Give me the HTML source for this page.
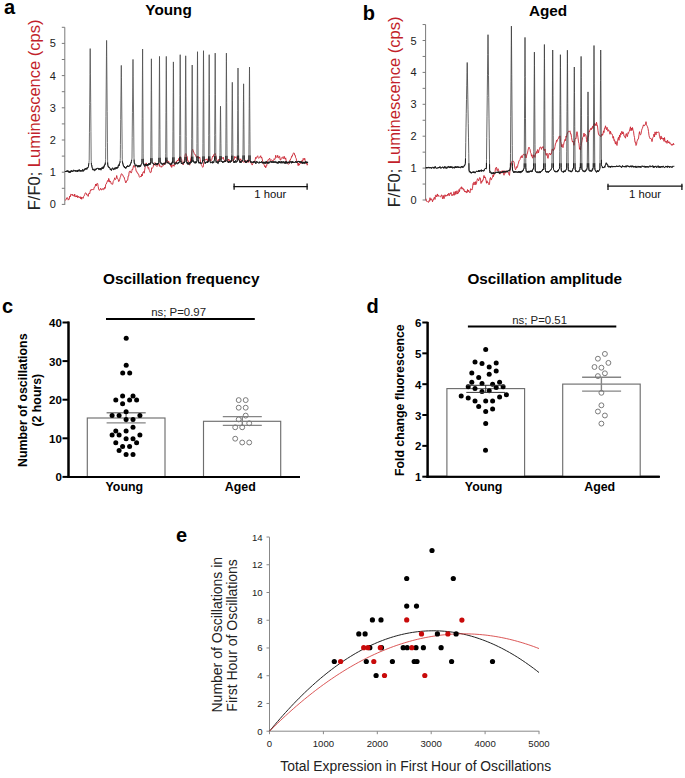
<!DOCTYPE html>
<html><head><meta charset="utf-8"><title>Figure</title>
<style>html,body{margin:0;padding:0;background:#fff;}body{width:685px;height:778px;overflow:hidden;font-family:"Liberation Sans",sans-serif;}svg{display:block;}</style>
</head><body>
<svg width="685" height="778" viewBox="0 0 685 778" font-family="Liberation Sans, sans-serif">
<rect width="685" height="778" fill="#fff"/>
<text x="3.90" y="13.60" font-size="20" text-anchor="start" font-weight="bold" fill="#000" >a</text>
<text x="168.60" y="15.40" font-size="15.3" text-anchor="middle" font-weight="bold" fill="#000" >Young</text>
<line x1="64.80" y1="204.90" x2="64.80" y2="27.30" stroke="#7a7a7a" stroke-width="1" />
<line x1="61.80" y1="204.40" x2="64.80" y2="204.40" stroke="#7a7a7a" stroke-width="1" />
<text x="55.80" y="208.40" font-size="11" text-anchor="end" fill="#222" >0</text>
<line x1="61.80" y1="188.30" x2="64.80" y2="188.30" stroke="#7a7a7a" stroke-width="1" />
<line x1="61.80" y1="172.20" x2="64.80" y2="172.20" stroke="#7a7a7a" stroke-width="1" />
<text x="55.80" y="176.20" font-size="11" text-anchor="end" fill="#222" >1</text>
<line x1="61.80" y1="156.10" x2="64.80" y2="156.10" stroke="#7a7a7a" stroke-width="1" />
<line x1="61.80" y1="140.00" x2="64.80" y2="140.00" stroke="#7a7a7a" stroke-width="1" />
<text x="55.80" y="144.00" font-size="11" text-anchor="end" fill="#222" >2</text>
<line x1="61.80" y1="123.90" x2="64.80" y2="123.90" stroke="#7a7a7a" stroke-width="1" />
<line x1="61.80" y1="107.80" x2="64.80" y2="107.80" stroke="#7a7a7a" stroke-width="1" />
<text x="55.80" y="111.80" font-size="11" text-anchor="end" fill="#222" >3</text>
<line x1="61.80" y1="91.70" x2="64.80" y2="91.70" stroke="#7a7a7a" stroke-width="1" />
<line x1="61.80" y1="75.60" x2="64.80" y2="75.60" stroke="#7a7a7a" stroke-width="1" />
<text x="55.80" y="79.60" font-size="11" text-anchor="end" fill="#222" >4</text>
<line x1="61.80" y1="59.50" x2="64.80" y2="59.50" stroke="#7a7a7a" stroke-width="1" />
<line x1="61.80" y1="43.40" x2="64.80" y2="43.40" stroke="#7a7a7a" stroke-width="1" />
<text x="55.80" y="47.40" font-size="11" text-anchor="end" fill="#222" >5</text>
<line x1="61.80" y1="27.30" x2="64.80" y2="27.30" stroke="#7a7a7a" stroke-width="1" />
<text transform="translate(39.6,114.9) rotate(-90)" font-size="16.5" text-anchor="middle" fill="#222">F/F0; <tspan fill="#c21f2b">Luminescence (cps)</tspan></text>
<path d="M65.20,199.89 L65.70,200.23 L66.20,199.28 L66.70,197.82 L67.20,197.98 L67.70,197.76 L68.20,200.14 L68.70,199.33 L69.20,199.34 L69.70,196.14 L70.20,197.00 L70.70,194.31 L71.20,194.75 L71.70,195.01 L72.20,194.01 L72.70,195.67 L73.20,195.03 L73.70,195.10 L74.20,196.38 L74.70,194.09 L75.20,196.91 L75.70,196.49 L76.20,195.68 L76.70,197.03 L77.20,195.50 L77.70,197.73 L78.20,196.95 L78.70,196.24 L79.20,197.85 L79.70,197.45 L80.20,196.71 L80.70,198.81 L81.20,196.96 L81.70,199.27 L82.20,197.45 L82.70,197.73 L83.20,198.29 L83.70,196.38 L84.20,195.87 L84.70,194.52 L85.20,193.09 L85.70,192.84 L86.20,193.20 L86.70,194.97 L87.20,194.75 L87.70,194.98 L88.20,196.40 L88.70,193.74 L89.20,192.97 L89.70,193.74 L90.20,191.06 L90.70,189.77 L91.20,190.30 L91.70,189.31 L92.20,189.96 L92.70,189.42 L93.20,190.07 L93.70,189.56 L94.20,187.25 L94.70,187.37 L95.20,186.12 L95.70,184.00 L96.20,185.99 L96.70,183.89 L97.20,183.27 L97.70,183.59 L98.20,186.55 L98.70,189.14 L99.20,190.35 L99.70,189.87 L100.20,189.44 L100.70,188.27 L101.20,190.07 L101.70,189.93 L102.20,188.80 L102.70,189.25 L103.20,188.35 L103.70,189.71 L104.20,189.24 L104.70,187.26 L105.20,188.37 L105.70,184.46 L106.20,184.15 L106.70,182.85 L107.20,181.67 L107.70,180.47 L108.20,181.66 L108.70,178.40 L109.20,179.65 L109.70,182.13 L110.20,180.95 L110.70,181.79 L111.20,183.89 L111.70,183.89 L112.20,184.10 L112.70,184.33 L113.20,181.51 L113.70,180.62 L114.20,179.65 L114.70,177.79 L115.20,179.70 L115.70,179.25 L116.20,178.49 L116.70,175.52 L117.20,177.76 L117.70,178.73 L118.20,179.46 L118.70,181.63 L119.20,181.00 L119.70,179.35 L120.20,177.47 L120.70,176.23 L121.20,174.05 L121.70,173.68 L122.20,174.65 L122.70,174.82 L123.20,176.14 L123.70,177.18 L124.20,177.26 L124.70,179.66 L125.20,180.87 L125.70,182.94 L126.20,182.37 L126.70,180.64 L127.20,180.47 L127.70,180.22 L128.20,176.00 L128.70,176.01 L129.20,171.89 L129.70,171.21 L130.20,170.94 L130.70,172.50 L131.20,173.08 L131.70,171.79 L132.20,169.14 L132.70,169.64 L133.20,167.04 L133.70,165.51 L134.20,167.20 L134.70,166.57 L135.20,167.20 L135.70,168.49 L136.20,171.32 L136.70,171.24 L137.20,172.89 L137.70,172.89 L138.20,174.34 L138.70,174.36 L139.20,176.53 L139.70,177.31 L140.20,176.81 L140.70,176.06 L141.20,176.78 L141.70,174.26 L142.20,175.94 L142.70,173.15 L143.20,171.95 L143.70,171.54 L144.20,173.22 L144.70,169.99 L145.20,166.85 L145.70,164.31 L146.20,162.90 L146.70,164.75 L147.20,165.47 L147.70,166.76 L148.20,168.38 L148.70,167.58 L149.20,170.28 L149.70,170.76 L150.20,172.62 L150.70,172.66 L151.20,172.04 L151.70,167.76 L152.20,168.36 L152.70,167.67 L153.20,166.98 L153.70,163.70 L154.20,163.33 L154.70,162.94 L155.20,162.61 L155.70,165.52 L156.20,166.18 L156.70,165.76 L157.20,166.40 L157.70,165.89 L158.20,164.54 L158.70,163.57 L159.20,163.63 L159.70,166.48 L160.20,165.72 L160.70,166.42 L161.20,167.32 L161.70,166.23 L162.20,166.57 L162.70,165.71 L163.20,165.77 L163.70,163.58 L164.20,162.67 L164.70,164.77 L165.20,163.35 L165.70,163.87 L166.20,162.76 L166.70,160.04 L167.20,160.53 L167.70,160.70 L168.20,162.14 L168.70,161.39 L169.20,163.09 L169.70,163.63 L170.20,163.34 L170.70,166.29 L171.20,164.81 L171.70,167.44 L172.20,165.90 L172.70,164.78 L173.20,164.74 L173.70,166.02 L174.20,166.30 L174.70,162.12 L175.20,162.29 L175.70,162.12 L176.20,163.19 L176.70,160.98 L177.20,161.09 L177.70,160.03 L178.20,160.89 L178.70,158.46 L179.20,159.81 L179.70,157.43 L180.20,156.42 L180.70,158.05 L181.20,158.97 L181.70,159.62 L182.20,163.28 L182.70,162.91 L183.20,164.89 L183.70,163.53 L184.20,161.35 L184.70,158.08 L185.20,154.74 L185.70,153.59 L186.20,153.85 L186.70,156.91 L187.20,156.46 L187.70,161.06 L188.20,160.71 L188.70,162.34 L189.20,163.27 L189.70,165.16 L190.20,162.44 L190.70,158.89 L191.20,157.17 L191.70,152.08 L192.20,150.08 L192.70,149.37 L193.20,150.55 L193.70,151.98 L194.20,153.42 L194.70,154.10 L195.20,155.09 L195.70,154.88 L196.20,157.24 L196.70,157.33 L197.20,157.84 L197.70,156.11 L198.20,156.82 L198.70,158.31 L199.20,158.00 L199.70,156.94 L200.20,159.53 L200.70,163.73 L201.20,164.30 L201.70,165.47 L202.20,166.37 L202.70,167.37 L203.20,166.90 L203.70,162.81 L204.20,160.47 L204.70,159.45 L205.20,159.46 L205.70,160.22 L206.20,159.08 L206.70,159.34 L207.20,158.84 L207.70,161.48 L208.20,161.20 L208.70,158.82 L209.20,161.30 L209.70,158.81 L210.20,159.14 L210.70,161.13 L211.20,160.56 L211.70,159.72 L212.20,157.90 L212.70,156.05 L213.20,156.69 L213.70,154.53 L214.20,154.07 L214.70,154.49 L215.20,153.40 L215.70,155.11 L216.20,158.04 L216.70,159.61 L217.20,160.27 L217.70,161.39 L218.20,160.97 L218.70,159.38 L219.20,160.13 L219.70,159.00 L220.20,159.35 L220.70,159.60 L221.20,157.73 L221.70,157.82 L222.20,158.58 L222.70,157.77 L223.20,157.12 L223.70,159.01 L224.20,160.35 L224.70,160.58 L225.20,160.62 L225.70,161.37 L226.20,161.05 L226.70,160.86 L227.20,160.14 L227.70,159.50 L228.20,160.55 L228.70,158.99 L229.20,159.86 L229.70,161.49 L230.20,161.74 L230.70,161.58 L231.20,160.23 L231.70,160.54 L232.20,160.69 L232.70,160.95 L233.20,159.61 L233.70,159.47 L234.20,159.63 L234.70,156.43 L235.20,157.06 L235.70,157.72 L236.20,156.73 L236.70,157.24 L237.20,159.58 L237.70,157.24 L238.20,158.81 L238.70,157.99 L239.20,160.01 L239.70,161.21 L240.20,160.23 L240.70,158.77 L241.20,160.38 L241.70,160.88 L242.20,161.76 L242.70,161.25 L243.20,161.56 L243.70,162.33 L244.20,161.41 L244.70,160.78 L245.20,162.56 L245.70,160.35 L246.20,161.50 L246.70,160.74 L247.20,161.88 L247.70,159.86 L248.20,162.53 L248.70,161.19 L249.20,160.17 L249.70,161.16 L250.20,162.33 L250.70,161.67 L251.20,163.30 L251.70,163.91 L252.20,165.09 L252.70,163.90 L253.20,162.70 L253.70,161.45 L254.20,162.06 L254.70,161.98 L255.20,159.64 L255.70,157.32 L256.20,158.51 L256.70,157.33 L257.20,156.38 L257.70,155.76 L258.20,157.83 L258.70,158.35 L259.20,157.72 L259.70,156.87 L260.20,156.92 L260.70,155.69 L261.20,158.10 L261.70,157.11 L262.20,158.97 L262.70,161.45 L263.20,163.55 L263.70,164.22 L264.20,164.90 L264.70,166.70 L265.20,165.84 L265.70,167.84 L266.20,165.80 L266.70,165.93 L267.20,162.63 L267.70,161.11 L268.20,159.57 L268.70,159.59 L269.20,158.87 L269.70,158.13 L270.20,160.68 L270.70,159.89 L271.20,159.70 L271.70,159.95 L272.20,160.68 L272.70,160.56 L273.20,160.89 L273.70,160.48 L274.20,158.63 L274.70,159.49 L275.20,158.80 L275.70,155.25 L276.20,156.85 L276.70,157.48 L277.20,157.35 L277.70,155.29 L278.20,157.67 L278.70,158.02 L279.20,156.36 L279.70,156.35 L280.20,160.04 L280.70,160.06 L281.20,158.60 L281.70,157.57 L282.20,157.21 L282.70,157.14 L283.20,158.77 L283.70,157.39 L284.20,156.21 L284.70,158.63 L285.20,159.20 L285.70,157.83 L286.20,160.99 L286.70,161.66 L287.20,163.17 L287.70,163.53 L288.20,164.44 L288.70,163.97 L289.20,163.48 L289.70,160.27 L290.20,160.33 L290.70,158.77 L291.20,158.17 L291.70,156.06 L292.20,156.45 L292.70,154.92 L293.20,153.32 L293.70,152.95 L294.20,153.02 L294.70,155.12 L295.20,155.12 L295.70,157.76 L296.20,158.47 L296.70,161.02 L297.20,162.63 L297.70,163.86 L298.20,165.68 L298.70,163.05 L299.20,165.20 L299.70,164.07 L300.20,163.67 L300.70,163.39 L301.20,163.37 L301.70,161.11 L302.20,160.19 L302.70,161.51 L303.20,158.39 L303.70,159.53 L304.20,159.91 L304.70,158.20 L305.20,160.46 L305.70,161.98 L306.20,163.93 L306.70,162.81 L307.20,165.20 L307.70,164.16" fill="none" stroke="#c92330" stroke-width="0.9" stroke-linejoin="round"/>
<path d="M65.20,171.52 L65.45,171.05 L65.70,171.95 L65.95,171.00 L66.20,171.69 L66.45,171.53 L66.70,170.83 L66.95,171.55 L67.20,170.77 L67.45,171.36 L67.70,170.76 L67.95,170.61 L68.20,171.26 L68.45,172.28 L68.70,171.10 L68.95,170.94 L69.20,171.72 L69.45,172.61 L69.70,172.08 L69.95,171.53 L70.20,172.56 L70.45,170.90 L70.70,172.08 L70.95,171.22 L71.20,170.64 L71.45,170.39 L71.70,170.69 L71.95,171.83 L72.20,170.81 L72.45,171.33 L72.70,171.58 L72.95,171.07 L73.20,171.27 L73.45,170.29 L73.70,169.96 L73.95,170.15 L74.20,171.18 L74.45,170.94 L74.70,170.61 L74.95,171.06 L75.20,170.90 L75.45,170.50 L75.70,171.41 L75.95,171.46 L76.20,170.50 L76.45,170.89 L76.70,170.88 L76.95,171.60 L77.20,171.49 L77.45,170.51 L77.70,171.66 L77.95,170.18 L78.20,170.35 L78.45,171.10 L78.70,170.04 L78.95,170.41 L79.20,169.57 L79.45,170.63 L79.70,171.13 L79.95,170.87 L80.20,171.42 L80.45,170.39 L80.70,170.86 L80.95,170.78 L81.20,170.70 L81.45,170.40 L81.70,171.09 L81.95,171.50 L82.20,170.60 L82.45,170.71 L82.70,169.44 L82.95,170.38 L83.20,170.51 L83.45,171.24 L83.70,171.06 L83.95,169.83 L84.20,169.63 L84.45,170.11 L84.70,168.85 L84.95,169.33 L85.20,168.80 L85.45,168.46 L85.70,168.16 L85.95,169.47 L86.20,168.42 L86.45,168.24 L86.70,168.35 L86.95,169.22 L87.20,167.62 L87.45,167.66 L87.70,167.57 L87.95,167.84 L88.20,167.27 L88.45,166.51 L88.70,164.16 L88.95,162.55 L89.20,160.35 L89.45,132.75 L89.70,104.55 L89.95,74.33 L90.20,48.60 L90.45,73.87 L90.70,102.50 L90.95,131.65 L91.20,160.66 L91.45,164.44 L91.70,165.08 L91.95,166.73 L92.20,167.54 L92.45,168.50 L92.70,169.82 L92.95,169.83 L93.20,169.58 L93.45,169.80 L93.70,170.04 L93.95,168.85 L94.20,170.29 L94.45,170.49 L94.70,170.76 L94.95,170.69 L95.20,169.82 L95.45,169.57 L95.70,168.86 L95.95,169.76 L96.20,168.82 L96.45,168.53 L96.70,168.73 L96.95,168.68 L97.20,169.01 L97.45,168.49 L97.70,168.21 L97.95,168.41 L98.20,168.35 L98.45,168.85 L98.70,168.27 L98.95,169.84 L99.20,169.74 L99.45,168.70 L99.70,168.57 L99.95,168.69 L100.20,168.72 L100.45,168.18 L100.70,169.50 L100.95,170.14 L101.20,169.18 L101.45,168.87 L101.70,167.87 L101.95,167.54 L102.20,167.86 L102.45,167.71 L102.70,168.74 L102.95,167.53 L103.20,166.73 L103.45,168.26 L103.70,167.62 L103.95,166.35 L104.20,166.46 L104.45,164.97 L104.70,165.00 L104.95,165.19 L105.20,164.01 L105.45,161.98 L105.60,159.67 L105.70,147.37 L105.95,116.39 L106.20,87.00 L106.45,56.30 L106.60,40.40 L106.70,49.85 L106.95,79.89 L107.20,111.49 L107.45,142.68 L107.60,160.91 L107.70,164.11 L107.95,165.75 L108.20,166.78 L108.45,166.52 L108.70,167.43 L108.95,167.64 L109.20,167.21 L109.45,167.22 L109.70,167.85 L109.95,168.07 L110.20,169.09 L110.45,169.98 L110.70,169.20 L110.95,170.00 L111.20,170.35 L111.45,170.37 L111.70,169.13 L111.95,168.43 L112.20,168.22 L112.45,168.06 L112.70,168.01 L112.95,168.84 L113.20,169.63 L113.45,169.71 L113.70,168.94 L113.95,169.03 L114.20,169.31 L114.45,167.85 L114.70,168.57 L114.95,169.26 L115.20,169.14 L115.45,168.97 L115.70,168.29 L115.95,167.39 L116.20,168.32 L116.45,167.56 L116.70,168.23 L116.95,168.69 L117.20,167.51 L117.45,167.05 L117.70,167.91 L117.95,167.54 L118.20,166.06 L118.45,165.28 L118.70,164.80 L118.95,165.86 L119.20,165.49 L119.45,163.37 L119.70,163.35 L119.95,162.59 L120.20,160.26 L120.30,158.57 L120.45,144.35 L120.70,119.54 L120.95,95.06 L121.20,72.93 L121.30,65.40 L121.45,77.28 L121.70,101.96 L121.95,125.05 L122.20,149.64 L122.30,159.32 L122.45,161.73 L122.70,162.96 L122.95,164.07 L123.20,164.76 L123.45,166.03 L123.70,165.97 L123.95,166.46 L124.20,166.12 L124.45,167.74 L124.70,167.11 L124.95,167.18 L125.20,167.48 L125.45,168.25 L125.70,167.45 L125.95,168.24 L126.20,167.57 L126.45,167.39 L126.70,167.28 L126.95,166.13 L127.20,166.62 L127.45,166.16 L127.70,165.57 L127.95,166.99 L128.20,166.01 L128.45,166.25 L128.70,166.74 L128.95,166.42 L129.20,165.70 L129.45,165.73 L129.70,165.63 L129.95,165.87 L130.20,164.25 L130.45,164.39 L130.70,163.37 L130.95,162.61 L131.20,162.76 L131.45,161.38 L131.70,159.93 L131.95,158.39 L132.00,158.38 L132.20,137.42 L132.45,112.39 L132.70,87.07 L132.95,61.91 L133.00,59.40 L133.20,76.89 L133.45,101.99 L133.70,126.95 L133.95,152.95 L134.00,157.74 L134.20,162.07 L134.45,163.75 L134.70,163.44 L134.95,164.43 L135.20,165.87 L135.45,166.32 L135.70,165.15 L135.95,164.89 L136.20,165.57 L136.45,165.05 L136.70,165.28 L136.95,165.02 L137.20,166.20 L137.45,166.79 L137.70,167.19 L137.95,165.74 L138.20,166.46 L138.45,166.53 L138.70,165.43 L138.95,166.61 L139.20,167.10 L139.45,165.62 L139.70,166.65 L139.95,165.73 L140.20,165.55 L140.45,166.44 L140.70,166.25 L140.95,164.61 L141.20,164.48 L141.45,164.34 L141.70,163.56 L141.95,162.56 L142.20,118.47 L142.45,75.13 L142.60,49.00 L142.70,65.80 L142.95,109.94 L143.20,153.19 L143.25,163.01 L143.45,164.15 L143.70,164.51 L143.95,163.83 L144.20,165.66 L144.45,165.86 L144.70,166.35 L144.95,164.69 L145.20,164.54 L145.45,164.02 L145.70,165.41 L145.95,164.74 L146.20,164.23 L146.45,164.67 L146.70,165.80 L146.95,165.92 L147.20,164.75 L147.45,164.14 L147.70,165.54 L147.95,165.19 L148.20,165.32 L148.45,164.02 L148.70,163.51 L148.95,164.61 L149.20,164.31 L149.45,163.37 L149.70,164.77 L149.95,164.37 L150.20,164.36 L150.45,162.54 L150.70,163.19 L150.75,161.76 L150.95,130.91 L151.20,90.28 L151.40,58.80 L151.45,66.13 L151.70,107.15 L151.95,146.17 L152.05,162.19 L152.20,163.17 L152.45,163.19 L152.70,163.10 L152.95,163.31 L153.20,163.23 L153.45,163.58 L153.70,163.96 L153.95,164.08 L154.20,165.08 L154.45,164.39 L154.70,164.62 L154.95,164.00 L155.20,164.15 L155.45,163.48 L155.70,163.74 L155.95,163.29 L156.20,164.62 L156.45,164.59 L156.70,163.77 L156.95,164.05 L157.20,165.02 L157.45,163.46 L157.70,164.36 L157.95,163.64 L158.20,163.34 L158.45,163.66 L158.70,162.45 L158.85,162.09 L158.95,146.10 L159.20,105.90 L159.45,63.84 L159.50,56.40 L159.70,89.00 L159.95,129.72 L160.15,162.50 L160.20,162.34 L160.45,162.11 L160.70,162.40 L160.95,162.51 L161.20,164.04 L161.45,163.55 L161.70,163.25 L161.95,163.01 L162.20,164.54 L162.45,165.06 L162.70,164.78 L162.95,163.86 L163.20,163.47 L163.45,163.42 L163.70,163.70 L163.95,163.08 L164.20,163.41 L164.45,163.01 L164.70,164.20 L164.95,164.38 L165.20,163.28 L165.45,161.95 L165.65,162.73 L165.70,153.56 L165.95,112.50 L166.20,70.84 L166.30,56.40 L166.45,79.92 L166.70,120.91 L166.95,161.16 L167.20,162.74 L167.45,162.21 L167.70,162.74 L167.95,162.65 L168.20,163.34 L168.45,162.85 L168.70,162.69 L168.95,163.25 L169.20,163.26 L169.45,164.00 L169.70,164.09 L169.95,164.55 L170.20,164.46 L170.45,164.51 L170.70,164.82 L170.95,163.81 L171.20,163.28 L171.45,164.40 L171.70,162.83 L171.95,163.38 L172.20,163.13 L172.45,161.47 L172.70,162.20 L172.75,162.57 L172.95,131.25 L173.20,92.70 L173.40,61.90 L173.45,68.35 L173.70,107.35 L173.95,146.02 L174.05,162.78 L174.20,163.26 L174.45,163.77 L174.70,163.58 L174.95,164.29 L175.20,164.15 L175.45,164.18 L175.70,163.24 L175.95,162.56 L176.20,162.57 L176.45,163.03 L176.70,162.62 L176.95,164.00 L177.20,163.79 L177.45,163.82 L177.70,163.76 L177.95,163.77 L178.20,163.27 L178.45,161.96 L178.70,163.06 L178.95,163.05 L179.20,162.22 L179.45,161.64 L179.55,161.62 L179.70,135.67 L179.95,95.43 L180.20,54.70 L180.45,94.10 L180.70,135.58 L180.85,161.98 L180.95,161.42 L181.20,162.75 L181.45,163.83 L181.70,163.27 L181.95,162.95 L182.20,163.11 L182.45,163.61 L182.70,163.94 L182.95,163.71 L183.20,163.65 L183.45,162.38 L183.70,162.06 L183.95,162.06 L184.20,162.92 L184.45,162.03 L184.70,162.02 L184.95,160.45 L185.05,159.98 L185.20,135.84 L185.45,95.96 L185.70,55.80 L185.95,96.32 L186.20,136.34 L186.35,161.66 L186.45,161.85 L186.70,162.29 L186.95,161.87 L187.20,163.51 L187.45,162.63 L187.70,164.05 L187.95,164.43 L188.20,162.62 L188.45,163.01 L188.70,163.86 L188.95,164.41 L189.20,163.44 L189.45,162.72 L189.70,162.32 L189.95,163.65 L190.20,162.40 L190.45,162.67 L190.70,161.64 L190.95,161.90 L191.20,162.57 L191.45,160.63 L191.55,161.40 L191.70,138.73 L191.95,102.22 L192.20,65.00 L192.45,100.93 L192.70,139.16 L192.85,161.51 L192.95,160.60 L193.20,160.65 L193.45,161.87 L193.70,162.26 L193.95,162.14 L194.20,161.81 L194.45,162.14 L194.70,162.17 L194.95,163.25 L195.20,161.75 L195.45,162.79 L195.70,163.16 L195.95,161.61 L196.20,162.62 L196.45,162.19 L196.70,162.07 L196.85,160.53 L196.95,143.46 L197.20,101.23 L197.45,60.28 L197.50,51.70 L197.70,84.48 L197.95,126.62 L198.15,160.63 L198.20,160.17 L198.45,160.60 L198.70,162.46 L198.95,162.01 L199.20,163.34 L199.45,162.36 L199.70,162.14 L199.95,162.60 L200.20,162.07 L200.45,162.28 L200.70,163.54 L200.95,163.71 L201.20,163.55 L201.45,163.03 L201.70,163.35 L201.95,163.34 L202.20,162.30 L202.45,162.06 L202.70,160.20 L202.85,160.86 L202.95,143.54 L203.20,101.50 L203.45,58.85 L203.50,50.70 L203.70,82.88 L203.95,127.06 L204.15,160.51 L204.20,160.99 L204.45,161.31 L204.70,161.51 L204.95,162.64 L205.20,163.57 L205.45,162.40 L205.70,162.92 L205.95,162.33 L206.20,162.69 L206.45,162.42 L206.70,161.82 L206.95,161.56 L207.20,161.48 L207.45,162.80 L207.70,162.17 L207.95,161.17 L208.20,162.01 L208.45,162.05 L208.55,160.81 L208.70,135.25 L208.95,94.06 L209.20,54.70 L209.45,94.21 L209.70,134.80 L209.85,160.19 L209.95,160.51 L210.20,161.64 L210.45,162.84 L210.70,163.04 L210.95,162.47 L211.20,162.36 L211.45,162.59 L211.70,162.36 L211.95,162.20 L212.20,161.55 L212.45,161.77 L212.70,163.23 L212.95,161.83 L213.20,162.10 L213.45,162.31 L213.70,162.69 L213.95,161.22 L214.20,160.59 L214.45,159.94 L214.55,159.97 L214.70,135.20 L214.95,94.72 L215.20,53.10 L215.45,94.88 L215.70,134.66 L215.85,159.68 L215.95,161.18 L216.20,162.39 L216.45,162.05 L216.70,162.31 L216.95,161.23 L217.20,161.77 L217.45,163.07 L217.70,163.24 L217.95,163.32 L218.20,163.53 L218.45,161.99 L218.70,161.11 L218.95,160.79 L219.20,161.25 L219.45,161.44 L219.70,161.66 L219.85,161.04 L219.95,152.36 L220.20,131.43 L220.45,109.73 L220.50,106.20 L220.70,121.32 L220.95,143.62 L221.15,160.30 L221.20,161.62 L221.45,161.89 L221.70,161.45 L221.95,161.08 L222.20,161.33 L222.45,162.26 L222.70,162.71 L222.95,161.62 L223.20,161.20 L223.45,162.00 L223.70,162.33 L223.95,161.96 L224.20,161.42 L224.45,161.95 L224.70,160.72 L224.95,160.79 L225.20,160.90 L225.45,161.65 L225.70,160.79 L225.75,161.06 L225.95,127.16 L226.20,84.97 L226.40,53.10 L226.45,61.33 L226.70,102.65 L226.95,143.20 L227.05,159.51 L227.20,160.58 L227.45,161.59 L227.70,161.53 L227.95,161.29 L228.20,162.16 L228.45,163.00 L228.70,161.81 L228.95,161.06 L229.20,161.45 L229.45,161.72 L229.70,162.30 L229.95,161.39 L230.20,162.28 L230.45,162.31 L230.70,161.67 L230.95,160.65 L231.20,161.67 L231.45,160.24 L231.65,160.53 L231.70,153.49 L231.95,123.01 L232.20,93.88 L232.30,82.30 L232.45,100.40 L232.70,129.92 L232.95,159.21 L233.20,160.15 L233.45,160.86 L233.70,161.75 L233.95,162.71 L234.20,161.37 L234.45,161.53 L234.70,161.20 L234.95,162.70 L235.20,161.37 L235.45,160.74 L235.70,160.50 L235.95,161.04 L236.20,162.14 L236.45,162.27 L236.70,161.78 L236.95,161.91 L237.20,161.42 L237.35,159.79 L237.45,144.86 L237.70,110.63 L237.95,75.03 L238.00,68.00 L238.20,95.75 L238.45,130.98 L238.65,159.93 L238.70,159.92 L238.95,160.02 L239.20,159.90 L239.45,160.59 L239.70,161.03 L239.95,162.49 L240.20,161.21 L240.45,162.60 L240.70,161.42 L240.95,161.34 L241.20,162.24 L241.45,162.44 L241.70,161.57 L241.95,160.37 L242.20,160.71 L242.45,160.35 L242.70,161.05 L242.95,159.29 L243.20,129.80 L243.45,101.44 L243.60,83.80 L243.70,94.40 L243.95,124.81 L244.20,154.46 L244.25,159.49 L244.45,159.46 L244.70,159.78 L244.95,161.85 L245.20,161.19 L245.45,162.10 L245.70,162.74 L245.95,161.78 L246.20,161.36 L246.45,162.67 L246.70,162.32 L246.95,161.43 L247.20,162.06 L247.45,161.32 L247.70,160.90 L247.95,160.05 L248.20,161.17 L248.45,161.56 L248.70,160.72 L248.85,160.89 L248.95,144.76 L249.20,108.74 L249.45,73.30 L249.50,67.00 L249.70,96.35 L249.95,131.19 L250.15,159.91 L250.20,160.23 L250.45,160.92 L250.70,162.26 L250.95,161.26 L251.20,162.38 L251.45,162.66 L251.70,162.99 L251.95,163.02 L252.20,162.72 L252.45,162.07 L252.70,161.87 L252.95,161.92 L253.20,162.82 L253.45,161.62 L253.70,161.52 L253.95,162.65 L254.20,161.94 L254.45,161.34 L254.70,161.10 L254.95,162.12 L255.20,161.95 L255.45,163.27 L255.70,163.46 L255.95,163.74 L256.20,162.31 L256.45,161.50 L256.70,161.28 L256.95,162.06 L257.20,162.73 L257.45,162.39 L257.70,161.83 L257.95,162.05 L258.20,162.54 L258.45,162.81 L258.70,163.04 L258.95,163.32 L259.20,163.02 L259.45,161.78 L259.70,162.93 L259.95,162.12 L260.20,162.45 L260.45,162.14 L260.70,162.82 L260.95,161.89 L261.20,161.71 L261.45,161.65 L261.70,161.44 L261.95,162.91 L262.20,162.71 L262.45,162.12 L262.70,162.09 L262.95,163.33 L263.20,162.69 L263.45,161.91 L263.70,162.89 L263.95,162.86 L264.20,163.56 L264.45,161.90 L264.70,162.19 L264.95,163.00 L265.20,163.28 L265.45,163.52 L265.70,161.76 L265.95,161.76 L266.20,161.40 L266.45,161.43 L266.70,163.09 L266.95,162.77 L267.20,163.40 L267.45,162.42 L267.70,163.16 L267.95,162.51 L268.20,161.91 L268.45,162.82 L268.70,163.45 L268.95,161.87 L269.20,162.42 L269.45,162.64 L269.70,161.86 L269.95,161.94 L270.20,161.49 L270.45,161.49 L270.70,161.59 L270.95,162.35 L271.20,162.68 L271.45,161.84 L271.70,161.18 L271.95,161.65 L272.20,162.53 L272.45,161.75 L272.70,161.79 L272.95,161.57 L273.20,162.75 L273.45,162.58 L273.70,161.51 L273.95,161.27 L274.20,161.81 L274.45,162.30 L274.70,162.64 L274.95,161.58 L275.20,161.42 L275.45,162.49 L275.70,162.21 L275.95,161.86 L276.20,161.80 L276.45,163.14 L276.70,162.20 L276.95,162.45 L277.20,162.08 L277.45,162.10 L277.70,163.04 L277.95,163.60 L278.20,162.44 L278.45,161.74 L278.70,162.65 L278.95,161.82 L279.20,161.15 L279.45,162.83 L279.70,162.33 L279.95,163.02 L280.20,162.35 L280.45,163.15 L280.70,162.50 L280.95,161.68 L281.20,161.13 L281.45,162.09 L281.70,162.56 L281.95,163.27 L282.20,161.76 L282.45,162.42 L282.70,162.09 L282.95,162.27 L283.20,161.58 L283.45,161.65 L283.70,162.18 L283.95,163.18 L284.20,161.77 L284.45,162.14 L284.70,162.92 L284.95,163.49 L285.20,162.04 L285.45,161.46 L285.70,163.00 L285.95,163.53 L286.20,162.65 L286.45,161.49 L286.70,162.97 L286.95,162.29 L287.20,163.16 L287.45,162.83 L287.70,163.16 L287.95,161.86 L288.20,162.79 L288.45,161.88 L288.70,161.99 L288.95,162.95 L289.20,163.20 L289.45,161.92 L289.70,161.61 L289.95,161.90 L290.20,162.23 L290.45,162.05 L290.70,161.45 L290.95,161.53 L291.20,162.55 L291.45,163.22 L291.70,161.63 L291.95,162.24 L292.20,162.83 L292.45,161.50 L292.70,162.78 L292.95,161.65 L293.20,162.32 L293.45,162.42 L293.70,162.61 L293.95,162.00 L294.20,162.05 L294.45,162.41 L294.70,162.18 L294.95,162.61 L295.20,162.29 L295.45,162.17 L295.70,161.27 L295.95,162.25 L296.20,162.27 L296.45,161.74 L296.70,162.69 L296.95,163.01 L297.20,162.43 L297.45,161.67 L297.70,162.06 L297.95,161.41 L298.20,161.26 L298.45,161.85 L298.70,161.31 L298.95,161.89 L299.20,162.20 L299.45,161.31 L299.70,162.29 L299.95,161.42 L300.20,162.53 L300.45,162.95 L300.70,162.52 L300.95,161.43 L301.20,162.05 L301.45,161.97 L301.70,163.15 L301.95,161.79 L302.20,162.90 L302.45,163.52 L302.70,163.16 L302.95,163.22 L303.20,161.93 L303.45,163.20 L303.70,162.55 L303.95,163.34 L304.20,163.49 L304.45,161.95 L304.70,162.80 L304.95,163.36 L305.20,161.70 L305.45,161.81 L305.70,162.69 L305.95,161.70 L306.20,162.95 L306.45,162.02 L306.70,162.88 L306.95,161.73 L307.20,162.13 L307.45,163.13 L307.70,161.94" fill="none" stroke="#4d4d4d" stroke-width="0.8" stroke-linejoin="miter" stroke-miterlimit="2"/>
<path d="M65.20,171.52 L65.45,171.05 L65.70,171.95 L65.95,171.00 L66.20,171.69 L66.45,171.53 L66.70,170.83 L66.95,171.55 L67.20,170.77 L67.45,171.36 L67.70,170.76 L67.95,170.61 L68.20,171.26 L68.45,172.28 L68.70,171.10 L68.95,170.94 L69.20,171.72 L69.45,172.61 L69.70,172.08 L69.95,171.53 L70.20,172.56 L70.45,170.90 L70.70,172.08 L70.95,171.22 L71.20,170.64 L71.45,170.39 L71.70,170.69 L71.95,171.83 L72.20,170.81 L72.45,171.33 L72.70,171.58 L72.95,171.07 L73.20,171.27 L73.45,170.29 L73.70,169.96 L73.95,170.15 L74.20,171.18 L74.45,170.94 L74.70,170.61 L74.95,171.06 L75.20,170.90 L75.45,170.50 L75.70,171.41 L75.95,171.46 L76.20,170.50 L76.45,170.89 L76.70,170.88 L76.95,171.60 L77.20,171.49 L77.45,170.51 L77.70,171.66 L77.95,170.18 L78.20,170.35 L78.45,171.10 L78.70,170.04 L78.95,170.41 L79.20,169.57 L79.45,170.63 L79.70,171.13 L79.95,170.87 L80.20,171.42 L80.45,170.39 L80.70,170.86 L80.95,170.78 L81.20,170.70 L81.45,170.40 L81.70,171.09 L81.95,171.50 L82.20,170.60 L82.45,170.71 L82.70,169.44 L82.95,170.38 L83.20,170.51 L83.45,171.24 L83.70,171.06 L83.95,169.83 L84.20,169.63 L84.45,170.11 L84.70,168.85 L84.95,169.33 L85.20,168.80 L85.45,168.46 L85.70,168.16 L85.95,169.47 L86.20,168.42 L86.45,168.24 L86.70,168.35 L86.95,169.22 L87.20,167.62 L87.45,167.66 L87.70,167.57 L87.95,167.84 L88.20,167.27 L88.45,166.51 L88.70,164.16 L88.83,163.29 M91.36,163.11 L91.45,164.44 L91.70,165.08 L91.95,166.73 L92.20,167.54 L92.45,168.50 L92.70,169.82 L92.95,169.83 L93.20,169.58 L93.45,169.80 L93.70,170.04 L93.95,168.85 L94.20,170.29 L94.45,170.49 L94.70,170.76 L94.95,170.69 L95.20,169.82 L95.45,169.57 L95.70,168.86 L95.95,169.76 L96.20,168.82 L96.45,168.53 L96.70,168.73 L96.95,168.68 L97.20,169.01 L97.45,168.49 L97.70,168.21 L97.95,168.41 L98.20,168.35 L98.45,168.85 L98.70,168.27 L98.95,169.84 L99.20,169.74 L99.45,168.70 L99.70,168.57 L99.95,168.69 L100.20,168.72 L100.45,168.18 L100.70,169.50 L100.95,170.14 L101.20,169.18 L101.45,168.87 L101.70,167.87 L101.95,167.54 L102.20,167.86 L102.45,167.71 L102.70,168.74 L102.95,167.53 L103.20,166.73 L103.45,168.26 L103.70,167.62 L103.95,166.35 L104.20,166.46 L104.45,164.97 L104.70,165.00 L104.95,165.19 L105.20,164.01 L105.38,162.53 M107.65,162.44 L107.70,164.11 L107.95,165.75 L108.20,166.78 L108.45,166.52 L108.70,167.43 L108.95,167.64 L109.20,167.21 L109.45,167.22 L109.70,167.85 L109.95,168.07 L110.20,169.09 L110.45,169.98 L110.70,169.20 L110.95,170.00 L111.20,170.35 L111.45,170.37 L111.70,169.13 L111.95,168.43 L112.20,168.22 L112.45,168.06 L112.70,168.01 L112.95,168.84 L113.20,169.63 L113.45,169.71 L113.70,168.94 L113.95,169.03 L114.20,169.31 L114.45,167.85 L114.70,168.57 L114.95,169.26 L115.20,169.14 L115.45,168.97 L115.70,168.29 L115.95,167.39 L116.20,168.32 L116.45,167.56 L116.70,168.23 L116.95,168.69 L117.20,167.51 L117.45,167.05 L117.70,167.91 L117.95,167.54 L118.20,166.06 L118.45,165.28 L118.70,164.80 L118.95,165.86 L119.20,165.49 L119.45,163.37 L119.70,163.35 L119.95,162.59 L120.08,161.34 M122.41,161.10 L122.45,161.73 L122.70,162.96 L122.95,164.07 L123.20,164.76 L123.45,166.03 L123.70,165.97 L123.95,166.46 L124.20,166.12 L124.45,167.74 L124.70,167.11 L124.95,167.18 L125.20,167.48 L125.45,168.25 L125.70,167.45 L125.95,168.24 L126.20,167.57 L126.45,167.39 L126.70,167.28 L126.95,166.13 L127.20,166.62 L127.45,166.16 L127.70,165.57 L127.95,166.99 L128.20,166.01 L128.45,166.25 L128.70,166.74 L128.95,166.42 L129.20,165.70 L129.45,165.73 L129.70,165.63 L129.95,165.87 L130.20,164.25 L130.45,164.39 L130.70,163.37 L130.95,162.61 L131.20,162.76 L131.45,161.38 L131.70,159.94 M134.09,159.63 L134.20,162.07 L134.45,163.75 L134.70,163.44 L134.95,164.43 L135.20,165.87 L135.45,166.32 L135.70,165.15 L135.95,164.89 L136.20,165.57 L136.45,165.05 L136.70,165.28 L136.95,165.02 L137.20,166.20 L137.45,166.79 L137.70,167.19 L137.95,165.74 L138.20,166.46 L138.45,166.53 L138.70,165.43 L138.95,166.61 L139.20,167.10 L139.45,165.62 L139.70,166.65 L139.95,165.73 L140.20,165.55 L140.45,166.44 L140.70,166.25 L140.95,164.61 L141.20,164.48 L141.45,164.34 L141.70,163.56 L141.95,162.56 L141.97,158.98 M143.23,158.79 L143.25,163.01 L143.45,164.15 L143.70,164.51 L143.95,163.83 L144.20,165.66 L144.45,165.86 L144.70,166.35 L144.95,164.69 L145.20,164.54 L145.45,164.02 L145.70,165.41 L145.95,164.74 L146.20,164.23 L146.45,164.67 L146.70,165.80 L146.95,165.92 L147.20,164.75 L147.45,164.14 L147.70,165.54 L147.95,165.19 L148.20,165.32 L148.45,164.02 L148.70,163.51 L148.95,164.61 L149.20,164.31 L149.45,163.37 L149.70,164.77 L149.95,164.37 L150.20,164.36 L150.45,162.54 L150.70,163.19 L150.75,161.76 L150.77,158.20 M152.02,158.17 L152.05,162.19 L152.20,163.17 L152.45,163.19 L152.70,163.10 L152.95,163.31 L153.20,163.23 L153.45,163.58 L153.70,163.96 L153.95,164.08 L154.20,165.08 L154.45,164.39 L154.70,164.62 L154.95,164.00 L155.20,164.15 L155.45,163.48 L155.70,163.74 L155.95,163.29 L156.20,164.62 L156.45,164.59 L156.70,163.77 L156.95,164.05 L157.20,165.02 L157.45,163.46 L157.70,164.36 L157.95,163.64 L158.20,163.34 L158.45,163.66 L158.70,162.45 L158.85,162.09 L158.88,157.81 M160.12,157.74 L160.15,162.50 L160.20,162.34 L160.45,162.11 L160.70,162.40 L160.95,162.51 L161.20,164.04 L161.45,163.55 L161.70,163.25 L161.95,163.01 L162.20,164.54 L162.45,165.06 L162.70,164.78 L162.95,163.86 L163.20,163.47 L163.45,163.42 L163.70,163.70 L163.95,163.08 L164.20,163.41 L164.45,163.01 L164.70,164.20 L164.95,164.38 L165.20,163.28 L165.45,161.95 L165.65,162.73 L165.68,157.60 M166.93,157.58 L166.95,161.16 L167.20,162.74 L167.45,162.21 L167.70,162.74 L167.95,162.65 L168.20,163.34 L168.45,162.85 L168.70,162.69 L168.95,163.25 L169.20,163.26 L169.45,164.00 L169.70,164.09 L169.95,164.55 L170.20,164.46 L170.45,164.51 L170.70,164.82 L170.95,163.81 L171.20,163.28 L171.45,164.40 L171.70,162.83 L171.95,163.38 L172.20,163.13 L172.45,161.47 L172.70,162.20 L172.75,162.57 L172.78,157.35 M174.02,157.29 L174.05,162.78 L174.20,163.26 L174.45,163.77 L174.70,163.58 L174.95,164.29 L175.20,164.15 L175.45,164.18 L175.70,163.24 L175.95,162.56 L176.20,162.57 L176.45,163.03 L176.70,162.62 L176.95,164.00 L177.20,163.79 L177.45,163.82 L177.70,163.76 L177.95,163.77 L178.20,163.27 L178.45,161.96 L178.70,163.06 L178.95,163.05 L179.20,162.22 L179.45,161.64 L179.55,161.62 L179.58,157.04 M180.82,157.02 L180.85,161.98 L180.95,161.42 L181.20,162.75 L181.45,163.83 L181.70,163.27 L181.95,162.95 L182.20,163.11 L182.45,163.61 L182.70,163.94 L182.95,163.71 L183.20,163.65 L183.45,162.38 L183.70,162.06 L183.95,162.06 L184.20,162.92 L184.45,162.03 L184.70,162.02 L184.95,160.45 L185.05,159.98 L185.07,156.97 M186.32,156.93 L186.35,161.66 L186.45,161.85 L186.70,162.29 L186.95,161.87 L187.20,163.51 L187.45,162.63 L187.70,164.05 L187.95,164.43 L188.20,162.62 L188.45,163.01 L188.70,163.86 L188.95,164.41 L189.20,163.44 L189.45,162.72 L189.70,162.32 L189.95,163.65 L190.20,162.40 L190.45,162.67 L190.70,161.64 L190.95,161.90 L191.20,162.57 L191.45,160.63 L191.55,161.40 L191.58,156.68 M192.82,156.62 L192.85,161.51 L192.95,160.60 L193.20,160.65 L193.45,161.87 L193.70,162.26 L193.95,162.14 L194.20,161.81 L194.45,162.14 L194.70,162.17 L194.95,163.25 L195.20,161.75 L195.45,162.79 L195.70,163.16 L195.95,161.61 L196.20,162.62 L196.45,162.19 L196.70,162.07 L196.85,160.53 L196.87,156.45 M198.13,156.42 L198.15,160.63 L198.20,160.17 L198.45,160.60 L198.70,162.46 L198.95,162.01 L199.20,163.34 L199.45,162.36 L199.70,162.14 L199.95,162.60 L200.20,162.07 L200.45,162.28 L200.70,163.54 L200.95,163.71 L201.20,163.55 L201.45,163.03 L201.70,163.35 L201.95,163.34 L202.20,162.30 L202.45,162.06 L202.70,160.20 L202.85,160.86 L202.88,156.39 M204.13,156.38 L204.15,160.51 L204.20,160.99 L204.45,161.31 L204.70,161.51 L204.95,162.64 L205.20,163.57 L205.45,162.40 L205.70,162.92 L205.95,162.33 L206.20,162.69 L206.45,162.42 L206.70,161.82 L206.95,161.56 L207.20,161.48 L207.45,162.80 L207.70,162.17 L207.95,161.17 L208.20,162.01 L208.45,162.05 L208.55,160.81 L208.58,156.33 M209.83,156.31 L209.85,160.19 L209.95,160.51 L210.20,161.64 L210.45,162.84 L210.70,163.04 L210.95,162.47 L211.20,162.36 L211.45,162.59 L211.70,162.36 L211.95,162.20 L212.20,161.55 L212.45,161.77 L212.70,163.23 L212.95,161.83 L213.20,162.10 L213.45,162.31 L213.70,162.69 L213.95,161.22 L214.20,160.59 L214.45,159.94 L214.55,159.97 L214.57,156.20 M215.83,156.17 L215.85,159.68 L215.95,161.18 L216.20,162.39 L216.45,162.05 L216.70,162.31 L216.95,161.23 L217.20,161.77 L217.45,163.07 L217.70,163.24 L217.95,163.32 L218.20,163.53 L218.45,161.99 L218.70,161.11 L218.95,160.79 L219.20,161.25 L219.45,161.44 L219.70,161.66 L219.85,161.04 L219.91,156.06 M221.10,156.02 L221.15,160.30 L221.20,161.62 L221.45,161.89 L221.70,161.45 L221.95,161.08 L222.20,161.33 L222.45,162.26 L222.70,162.71 L222.95,161.62 L223.20,161.20 L223.45,162.00 L223.70,162.33 L223.95,161.96 L224.20,161.42 L224.45,161.95 L224.70,160.72 L224.95,160.79 L225.20,160.90 L225.45,161.65 L225.70,160.79 L225.75,161.06 L225.78,155.88 M227.03,155.84 L227.05,159.51 L227.20,160.58 L227.45,161.59 L227.70,161.53 L227.95,161.29 L228.20,162.16 L228.45,163.00 L228.70,161.81 L228.95,161.06 L229.20,161.45 L229.45,161.72 L229.70,162.30 L229.95,161.39 L230.20,162.28 L230.45,162.31 L230.70,161.67 L230.95,160.65 L231.20,161.67 L231.45,160.24 L231.65,160.53 L231.68,155.70 M232.92,155.66 L232.95,159.21 L233.20,160.15 L233.45,160.86 L233.70,161.75 L233.95,162.71 L234.20,161.37 L234.45,161.53 L234.70,161.20 L234.95,162.70 L235.20,161.37 L235.45,160.74 L235.70,160.50 L235.95,161.04 L236.20,162.14 L236.45,162.27 L236.70,161.78 L236.95,161.91 L237.20,161.42 L237.35,159.79 L237.38,155.55 M238.62,155.52 L238.65,159.93 L238.70,159.92 L238.95,160.02 L239.20,159.90 L239.45,160.59 L239.70,161.03 L239.95,162.49 L240.20,161.21 L240.45,162.60 L240.70,161.42 L240.95,161.34 L241.20,162.24 L241.45,162.44 L241.70,161.57 L241.95,160.37 L242.20,160.71 L242.45,160.35 L242.70,161.05 L242.95,159.29 L242.98,155.45 M244.21,155.43 L244.25,159.49 L244.45,159.46 L244.70,159.78 L244.95,161.85 L245.20,161.19 L245.45,162.10 L245.70,162.74 L245.95,161.78 L246.20,161.36 L246.45,162.67 L246.70,162.32 L246.95,161.43 L247.20,162.06 L247.45,161.32 L247.70,160.90 L247.95,160.05 L248.20,161.17 L248.45,161.56 L248.70,160.72 L248.85,160.89 L248.88,155.40 M250.12,155.40 L250.15,159.91 L250.20,160.23 L250.45,160.92 L250.70,162.26 L250.95,161.26 L251.20,162.38 L251.45,162.66 L251.70,162.99 L251.95,163.02 L252.20,162.72 L252.45,162.07 L252.70,161.87 L252.95,161.92 L253.20,162.82 L253.45,161.62 L253.70,161.52 L253.95,162.65 L254.20,161.94 L254.45,161.34 L254.70,161.10 L254.95,162.12 L255.20,161.95 L255.45,163.27 L255.70,163.46 L255.95,163.74 L256.20,162.31 L256.45,161.50 L256.70,161.28 L256.95,162.06 L257.20,162.73 L257.45,162.39 L257.70,161.83 L257.95,162.05 L258.20,162.54 L258.45,162.81 L258.70,163.04 L258.95,163.32 L259.20,163.02 L259.45,161.78 L259.70,162.93 L259.95,162.12 L260.20,162.45 L260.45,162.14 L260.70,162.82 L260.95,161.89 L261.20,161.71 L261.45,161.65 L261.70,161.44 L261.95,162.91 L262.20,162.71 L262.45,162.12 L262.70,162.09 L262.95,163.33 L263.20,162.69 L263.45,161.91 L263.70,162.89 L263.95,162.86 L264.20,163.56 L264.45,161.90 L264.70,162.19 L264.95,163.00 L265.20,163.28 L265.45,163.52 L265.70,161.76 L265.95,161.76 L266.20,161.40 L266.45,161.43 L266.70,163.09 L266.95,162.77 L267.20,163.40 L267.45,162.42 L267.70,163.16 L267.95,162.51 L268.20,161.91 L268.45,162.82 L268.70,163.45 L268.95,161.87 L269.20,162.42 L269.45,162.64 L269.70,161.86 L269.95,161.94 L270.20,161.49 L270.45,161.49 L270.70,161.59 L270.95,162.35 L271.20,162.68 L271.45,161.84 L271.70,161.18 L271.95,161.65 L272.20,162.53 L272.45,161.75 L272.70,161.79 L272.95,161.57 L273.20,162.75 L273.45,162.58 L273.70,161.51 L273.95,161.27 L274.20,161.81 L274.45,162.30 L274.70,162.64 L274.95,161.58 L275.20,161.42 L275.45,162.49 L275.70,162.21 L275.95,161.86 L276.20,161.80 L276.45,163.14 L276.70,162.20 L276.95,162.45 L277.20,162.08 L277.45,162.10 L277.70,163.04 L277.95,163.60 L278.20,162.44 L278.45,161.74 L278.70,162.65 L278.95,161.82 L279.20,161.15 L279.45,162.83 L279.70,162.33 L279.95,163.02 L280.20,162.35 L280.45,163.15 L280.70,162.50 L280.95,161.68 L281.20,161.13 L281.45,162.09 L281.70,162.56 L281.95,163.27 L282.20,161.76 L282.45,162.42 L282.70,162.09 L282.95,162.27 L283.20,161.58 L283.45,161.65 L283.70,162.18 L283.95,163.18 L284.20,161.77 L284.45,162.14 L284.70,162.92 L284.95,163.49 L285.20,162.04 L285.45,161.46 L285.70,163.00 L285.95,163.53 L286.20,162.65 L286.45,161.49 L286.70,162.97 L286.95,162.29 L287.20,163.16 L287.45,162.83 L287.70,163.16 L287.95,161.86 L288.20,162.79 L288.45,161.88 L288.70,161.99 L288.95,162.95 L289.20,163.20 L289.45,161.92 L289.70,161.61 L289.95,161.90 L290.20,162.23 L290.45,162.05 L290.70,161.45 L290.95,161.53 L291.20,162.55 L291.45,163.22 L291.70,161.63 L291.95,162.24 L292.20,162.83 L292.45,161.50 L292.70,162.78 L292.95,161.65 L293.20,162.32 L293.45,162.42 L293.70,162.61 L293.95,162.00 L294.20,162.05 L294.45,162.41 L294.70,162.18 L294.95,162.61 L295.20,162.29 L295.45,162.17 L295.70,161.27 L295.95,162.25 L296.20,162.27 L296.45,161.74 L296.70,162.69 L296.95,163.01 L297.20,162.43 L297.45,161.67 L297.70,162.06 L297.95,161.41 L298.20,161.26 L298.45,161.85 L298.70,161.31 L298.95,161.89 L299.20,162.20 L299.45,161.31 L299.70,162.29 L299.95,161.42 L300.20,162.53 L300.45,162.95 L300.70,162.52 L300.95,161.43 L301.20,162.05 L301.45,161.97 L301.70,163.15 L301.95,161.79 L302.20,162.90 L302.45,163.52 L302.70,163.16 L302.95,163.22 L303.20,161.93 L303.45,163.20 L303.70,162.55 L303.95,163.34 L304.20,163.49 L304.45,161.95 L304.70,162.80 L304.95,163.36 L305.20,161.70 L305.45,161.81 L305.70,162.69 L305.95,161.70 L306.20,162.95 L306.45,162.02 L306.70,162.88 L306.95,161.73 L307.20,162.13 L307.45,163.13 L307.70,161.94" fill="none" stroke="#1a1a1a" stroke-width="1.0" stroke-linejoin="round"/>
<line x1="233.50" y1="186.60" x2="307.70" y2="186.60" stroke="#111" stroke-width="1.3" />
<line x1="234.10" y1="183.60" x2="234.10" y2="189.80" stroke="#111" stroke-width="1.3" />
<line x1="307.10" y1="183.60" x2="307.10" y2="189.80" stroke="#111" stroke-width="1.3" />
<text x="270.30" y="198.10" font-size="11.3" text-anchor="middle" fill="#111" >1 hour</text>
<text x="362.80" y="19.60" font-size="20" text-anchor="start" font-weight="bold" fill="#000" >b</text>
<text x="548.00" y="16.40" font-size="15.3" text-anchor="middle" font-weight="bold" fill="#000" >Aged</text>
<line x1="425.60" y1="200.50" x2="425.60" y2="24.55" stroke="#7a7a7a" stroke-width="1" />
<line x1="422.60" y1="200.00" x2="425.60" y2="200.00" stroke="#7a7a7a" stroke-width="1" />
<text x="416.60" y="204.00" font-size="11" text-anchor="end" fill="#222" >0</text>
<line x1="422.60" y1="184.05" x2="425.60" y2="184.05" stroke="#7a7a7a" stroke-width="1" />
<line x1="422.60" y1="168.10" x2="425.60" y2="168.10" stroke="#7a7a7a" stroke-width="1" />
<text x="416.60" y="172.10" font-size="11" text-anchor="end" fill="#222" >1</text>
<line x1="422.60" y1="152.15" x2="425.60" y2="152.15" stroke="#7a7a7a" stroke-width="1" />
<line x1="422.60" y1="136.20" x2="425.60" y2="136.20" stroke="#7a7a7a" stroke-width="1" />
<text x="416.60" y="140.20" font-size="11" text-anchor="end" fill="#222" >2</text>
<line x1="422.60" y1="120.25" x2="425.60" y2="120.25" stroke="#7a7a7a" stroke-width="1" />
<line x1="422.60" y1="104.30" x2="425.60" y2="104.30" stroke="#7a7a7a" stroke-width="1" />
<text x="416.60" y="108.30" font-size="11" text-anchor="end" fill="#222" >3</text>
<line x1="422.60" y1="88.35" x2="425.60" y2="88.35" stroke="#7a7a7a" stroke-width="1" />
<line x1="422.60" y1="72.40" x2="425.60" y2="72.40" stroke="#7a7a7a" stroke-width="1" />
<text x="416.60" y="76.40" font-size="11" text-anchor="end" fill="#222" >4</text>
<line x1="422.60" y1="56.45" x2="425.60" y2="56.45" stroke="#7a7a7a" stroke-width="1" />
<line x1="422.60" y1="40.50" x2="425.60" y2="40.50" stroke="#7a7a7a" stroke-width="1" />
<text x="416.60" y="44.50" font-size="11" text-anchor="end" fill="#222" >5</text>
<line x1="422.60" y1="24.55" x2="425.60" y2="24.55" stroke="#7a7a7a" stroke-width="1" />
<text transform="translate(400.2,111.9) rotate(-90)" font-size="16.5" text-anchor="middle" fill="#222">F/F0; <tspan fill="#c21f2b">Luminescence (cps)</tspan></text>
<path d="M426.00,198.70 L426.50,201.28 L427.00,201.64 L427.50,201.57 L428.00,202.17 L428.50,202.32 L429.00,200.69 L429.50,201.32 L430.00,197.71 L430.50,199.99 L431.00,200.25 L431.50,198.73 L432.00,199.73 L432.50,201.81 L433.00,199.74 L433.50,199.83 L434.00,197.79 L434.50,197.19 L435.00,199.47 L435.50,195.35 L436.00,194.84 L436.50,196.97 L437.00,196.12 L437.50,193.94 L438.00,196.29 L438.50,195.43 L439.00,196.35 L439.50,195.85 L440.00,196.44 L440.50,196.92 L441.00,196.34 L441.50,194.91 L442.00,195.02 L442.50,198.75 L443.00,197.99 L443.50,195.57 L444.00,198.74 L444.50,196.31 L445.00,194.74 L445.50,196.37 L446.00,195.15 L446.50,195.84 L447.00,196.14 L447.50,194.36 L448.00,195.55 L448.50,193.41 L449.00,194.88 L449.50,195.63 L450.00,193.14 L450.50,194.06 L451.00,192.40 L451.50,193.64 L452.00,195.88 L452.50,194.63 L453.00,194.95 L453.50,195.07 L454.00,191.70 L454.50,195.25 L455.00,194.76 L455.50,191.44 L456.00,194.21 L456.50,192.50 L457.00,190.72 L457.50,194.04 L458.00,192.56 L458.50,192.97 L459.00,189.52 L459.50,191.63 L460.00,188.24 L460.50,188.09 L461.00,188.57 L461.50,186.76 L462.00,189.21 L462.50,187.89 L463.00,188.03 L463.50,190.21 L464.00,189.39 L464.50,191.64 L465.00,190.95 L465.50,192.18 L466.00,191.03 L466.50,192.67 L467.00,192.95 L467.50,189.54 L468.00,191.71 L468.50,190.25 L469.00,192.08 L469.50,192.12 L470.00,192.76 L470.50,188.92 L471.00,188.62 L471.50,189.63 L472.00,190.11 L472.50,188.23 L473.00,183.54 L473.50,184.61 L474.00,181.91 L474.50,183.37 L475.00,185.03 L475.50,181.65 L476.00,184.49 L476.50,183.36 L477.00,180.33 L477.50,178.69 L478.00,179.12 L478.50,180.94 L479.00,180.01 L479.50,177.72 L480.00,177.61 L480.50,179.04 L481.00,183.49 L481.50,181.36 L482.00,182.17 L482.50,180.17 L483.00,180.65 L483.50,178.16 L484.00,175.48 L484.50,178.02 L485.00,176.85 L485.50,177.98 L486.00,180.27 L486.50,183.27 L487.00,180.75 L487.50,182.68 L488.00,182.20 L488.50,183.40 L489.00,184.84 L489.50,183.88 L490.00,178.77 L490.50,177.45 L491.00,179.87 L491.50,179.69 L492.00,178.03 L492.50,177.44 L493.00,174.82 L493.50,176.64 L494.00,173.68 L494.50,174.30 L495.00,172.15 L495.50,168.14 L496.00,167.97 L496.50,167.23 L497.00,170.73 L497.50,170.65 L498.00,168.66 L498.50,169.69 L499.00,171.66 L499.50,173.16 L500.00,174.17 L500.50,173.36 L501.00,172.90 L501.50,170.88 L502.00,173.17 L502.50,172.36 L503.00,170.46 L503.50,172.16 L504.00,175.26 L504.50,171.23 L505.00,170.70 L505.50,173.19 L506.00,171.72 L506.50,171.28 L507.00,172.25 L507.50,171.21 L508.00,172.46 L508.50,172.51 L509.00,174.69 L509.50,175.40 L510.00,169.84 L510.50,168.23 L511.00,165.54 L511.50,162.97 L512.00,161.36 L512.50,160.86 L513.00,161.50 L513.50,161.31 L514.00,162.02 L514.50,165.95 L515.00,168.26 L515.50,169.77 L516.00,169.01 L516.50,166.62 L517.00,167.66 L517.50,166.81 L518.00,164.27 L518.50,163.18 L519.00,160.57 L519.50,160.41 L520.00,159.55 L520.50,157.21 L521.00,156.99 L521.50,155.73 L522.00,158.02 L522.50,155.85 L523.00,154.93 L523.50,154.31 L524.00,154.41 L524.50,155.31 L525.00,154.66 L525.50,153.93 L526.00,157.97 L526.50,155.99 L527.00,154.18 L527.50,152.98 L528.00,150.18 L528.50,148.15 L529.00,147.12 L529.50,148.39 L530.00,149.30 L530.50,152.41 L531.00,153.16 L531.50,156.22 L532.00,154.77 L532.50,158.04 L533.00,157.58 L533.50,155.06 L534.00,154.76 L534.50,156.06 L535.00,157.47 L535.50,153.54 L536.00,153.79 L536.50,151.59 L537.00,153.27 L537.50,149.60 L538.00,150.67 L538.50,152.85 L539.00,149.98 L539.50,148.89 L540.00,147.13 L540.50,147.12 L541.00,147.38 L541.50,149.42 L542.00,147.26 L542.50,147.51 L543.00,146.49 L543.50,148.30 L544.00,150.38 L544.50,150.42 L545.00,148.96 L545.50,152.30 L546.00,155.30 L546.50,155.13 L547.00,153.17 L547.50,156.90 L548.00,158.36 L548.50,155.88 L549.00,153.85 L549.50,153.04 L550.00,153.90 L550.50,155.04 L551.00,153.34 L551.50,153.67 L552.00,149.61 L552.50,148.87 L553.00,150.80 L553.50,150.63 L554.00,148.85 L554.50,149.09 L555.00,146.50 L555.50,143.38 L556.00,143.30 L556.50,140.28 L557.00,141.43 L557.50,139.30 L558.00,138.83 L558.50,138.72 L559.00,136.69 L559.50,137.25 L560.00,135.85 L560.50,141.57 L561.00,142.86 L561.50,146.91 L562.00,144.25 L562.50,146.76 L563.00,147.64 L563.50,145.28 L564.00,142.61 L564.50,141.13 L565.00,139.37 L565.50,140.67 L566.00,136.07 L566.50,137.19 L567.00,134.19 L567.50,132.96 L568.00,132.10 L568.50,131.24 L569.00,131.41 L569.50,131.45 L570.00,130.84 L570.50,133.93 L571.00,133.64 L571.50,137.39 L572.00,140.05 L572.50,142.03 L573.00,141.06 L573.50,143.65 L574.00,145.33 L574.50,142.37 L575.00,139.44 L575.50,138.41 L576.00,138.86 L576.50,133.86 L577.00,131.68 L577.50,134.22 L578.00,137.73 L578.50,141.88 L579.00,143.54 L579.50,149.29 L580.00,147.91 L580.50,150.02 L581.00,146.12 L581.50,143.15 L582.00,140.86 L582.50,137.73 L583.00,137.25 L583.50,135.99 L584.00,133.10 L584.50,136.40 L585.00,134.91 L585.50,134.38 L586.00,135.47 L586.50,139.54 L587.00,142.09 L587.50,138.96 L588.00,136.26 L588.50,136.70 L589.00,131.23 L589.50,131.83 L590.00,129.44 L590.50,129.63 L591.00,127.98 L591.50,129.60 L592.00,127.91 L592.50,126.38 L593.00,128.52 L593.50,124.56 L594.00,126.35 L594.50,123.03 L595.00,124.87 L595.50,123.88 L596.00,125.89 L596.50,122.31 L597.00,124.72 L597.50,125.99 L598.00,130.81 L598.50,134.21 L599.00,135.33 L599.50,135.00 L600.00,135.83 L600.50,136.10 L601.00,136.67 L601.50,135.19 L602.00,133.84 L602.50,135.34 L603.00,134.02 L603.50,130.84 L604.00,132.57 L604.50,128.17 L605.00,128.24 L605.50,125.79 L606.00,128.72 L606.50,129.70 L607.00,127.28 L607.50,129.73 L608.00,131.38 L608.50,129.72 L609.00,130.18 L609.50,131.56 L610.00,134.26 L610.50,131.25 L611.00,133.29 L611.50,133.81 L612.00,133.87 L612.50,135.36 L613.00,138.22 L613.50,136.50 L614.00,140.49 L614.50,139.71 L615.00,142.42 L615.50,144.10 L616.00,141.39 L616.50,144.28 L617.00,145.48 L617.50,141.71 L618.00,138.59 L618.50,137.29 L619.00,140.29 L619.50,135.06 L620.00,137.38 L620.50,133.32 L621.00,134.78 L621.50,131.70 L622.00,131.37 L622.50,134.01 L623.00,131.80 L623.50,132.72 L624.00,136.13 L624.50,136.18 L625.00,137.25 L625.50,138.19 L626.00,133.73 L626.50,133.71 L627.00,136.54 L627.50,136.49 L628.00,132.67 L628.50,133.42 L629.00,131.43 L629.50,131.11 L630.00,128.57 L630.50,126.81 L631.00,130.81 L631.50,128.07 L632.00,130.21 L632.50,127.51 L633.00,130.24 L633.50,131.25 L634.00,135.38 L634.50,137.45 L635.00,142.46 L635.50,142.18 L636.00,145.47 L636.50,144.60 L637.00,141.31 L637.50,140.14 L638.00,138.75 L638.50,138.77 L639.00,134.38 L639.50,131.65 L640.00,134.52 L640.50,134.87 L641.00,133.87 L641.50,130.80 L642.00,128.92 L642.50,128.17 L643.00,126.20 L643.50,124.80 L644.00,126.08 L644.50,125.25 L645.00,125.29 L645.50,123.96 L646.00,121.68 L646.50,124.65 L647.00,125.85 L647.50,126.73 L648.00,128.48 L648.50,131.37 L649.00,135.38 L649.50,137.52 L650.00,138.69 L650.50,138.38 L651.00,138.42 L651.50,138.94 L652.00,141.61 L652.50,138.80 L653.00,137.42 L653.50,136.42 L654.00,133.97 L654.50,136.92 L655.00,131.90 L655.50,133.20 L656.00,134.85 L656.50,131.80 L657.00,132.99 L657.50,132.37 L658.00,131.91 L658.50,132.08 L659.00,132.26 L659.50,136.61 L660.00,137.98 L660.50,139.50 L661.00,135.95 L661.50,138.70 L662.00,137.70 L662.50,139.15 L663.00,139.04 L663.50,138.00 L664.00,141.34 L664.50,137.53 L665.00,140.68 L665.50,142.28 L666.00,141.10 L666.50,141.30 L667.00,143.40 L667.50,140.18 L668.00,141.62 L668.50,142.86 L669.00,141.67 L669.50,143.46 L670.00,142.67 L670.50,143.51 L671.00,144.49 L671.50,145.32 L672.00,143.89 L672.50,145.17 L673.00,145.04 L673.50,143.37 L674.00,144.94" fill="none" stroke="#c92330" stroke-width="0.9" stroke-linejoin="round"/>
<path d="M426.00,167.57 L426.25,168.26 L426.50,167.01 L426.75,167.79 L427.00,167.87 L427.25,167.41 L427.50,168.15 L427.75,167.54 L428.00,167.54 L428.25,167.62 L428.50,168.06 L428.75,167.25 L429.00,167.38 L429.25,167.40 L429.50,167.63 L429.75,168.15 L430.00,167.41 L430.25,168.09 L430.50,167.58 L430.75,167.59 L431.00,167.21 L431.25,167.49 L431.50,168.36 L431.75,168.08 L432.00,168.22 L432.25,167.49 L432.50,167.25 L432.75,167.15 L433.00,167.60 L433.25,167.81 L433.50,168.13 L433.75,166.97 L434.00,167.77 L434.25,168.28 L434.50,167.86 L434.75,166.90 L435.00,167.03 L435.25,166.58 L435.50,166.75 L435.75,168.03 L436.00,167.89 L436.25,167.92 L436.50,168.15 L436.75,168.43 L437.00,168.00 L437.25,167.89 L437.50,167.87 L437.75,167.98 L438.00,167.84 L438.25,167.94 L438.50,167.18 L438.75,167.71 L439.00,167.52 L439.25,167.98 L439.50,167.00 L439.75,166.84 L440.00,166.55 L440.25,167.70 L440.50,168.27 L440.75,168.01 L441.00,167.45 L441.25,168.04 L441.50,168.16 L441.75,167.81 L442.00,167.20 L442.25,167.09 L442.50,167.25 L442.75,167.13 L443.00,167.28 L443.25,167.67 L443.50,168.28 L443.75,166.99 L444.00,167.46 L444.25,166.71 L444.50,166.62 L444.75,167.75 L445.00,167.69 L445.25,168.25 L445.50,167.62 L445.75,166.71 L446.00,167.06 L446.25,167.51 L446.50,168.22 L446.75,168.50 L447.00,167.74 L447.25,167.40 L447.50,166.78 L447.75,167.50 L448.00,166.99 L448.25,166.73 L448.50,166.42 L448.75,166.31 L449.00,167.42 L449.25,166.80 L449.50,168.03 L449.75,166.93 L450.00,167.91 L450.25,166.95 L450.50,166.48 L450.75,167.51 L451.00,167.02 L451.25,167.69 L451.50,166.98 L451.75,166.53 L452.00,167.61 L452.25,167.83 L452.50,168.13 L452.75,168.01 L453.00,166.88 L453.25,167.46 L453.50,167.76 L453.75,167.43 L454.00,168.12 L454.25,167.19 L454.50,168.10 L454.75,167.95 L455.00,166.72 L455.25,166.35 L455.50,167.30 L455.75,167.86 L456.00,166.78 L456.25,166.84 L456.50,167.56 L456.75,166.82 L457.00,167.76 L457.25,167.40 L457.50,166.57 L457.75,166.83 L458.00,167.25 L458.25,167.13 L458.50,167.49 L458.75,166.69 L459.00,167.53 L459.25,167.04 L459.50,167.36 L459.75,167.41 L460.00,167.05 L460.25,166.87 L460.50,167.47 L460.75,167.89 L461.00,167.72 L461.25,167.28 L461.50,166.66 L461.75,166.05 L462.00,167.36 L462.25,167.26 L462.50,167.40 L462.75,166.56 L463.00,166.71 L463.25,167.31 L463.50,167.16 L463.75,166.62 L464.00,165.83 L464.25,165.61 L464.50,166.06 L464.75,164.98 L465.00,164.67 L465.25,163.70 L465.40,163.44 L465.50,157.69 L465.75,142.46 L466.00,127.37 L466.25,113.30 L466.50,99.47 L466.75,85.79 L467.00,72.34 L467.20,62.50 L467.25,63.14 L467.50,78.96 L467.75,94.13 L468.00,109.21 L468.25,123.66 L468.50,137.86 L468.75,153.39 L469.00,170.01 L469.25,171.06 L469.50,172.14 L469.75,171.73 L470.00,171.32 L470.25,172.09 L470.50,172.79 L470.75,172.03 L471.00,172.75 L471.25,173.28 L471.50,172.27 L471.75,172.58 L472.00,172.78 L472.25,172.47 L472.50,171.93 L472.75,171.83 L473.00,172.61 L473.25,172.89 L473.50,172.39 L473.75,171.59 L474.00,172.54 L474.25,172.73 L474.50,171.86 L474.75,172.15 L475.00,172.74 L475.25,172.86 L475.50,172.26 L475.75,171.97 L476.00,172.04 L476.25,171.35 L476.50,171.12 L476.75,170.99 L477.00,171.80 L477.25,171.43 L477.50,171.63 L477.75,171.38 L478.00,171.46 L478.25,170.83 L478.50,170.43 L478.75,171.88 L479.00,171.23 L479.25,170.55 L479.50,171.19 L479.75,171.61 L480.00,170.64 L480.25,171.05 L480.50,170.72 L480.75,170.87 L481.00,170.05 L481.25,169.78 L481.50,171.28 L481.75,171.48 L482.00,170.86 L482.25,170.78 L482.50,170.20 L482.75,170.85 L483.00,170.41 L483.25,171.11 L483.50,170.97 L483.75,170.96 L484.00,171.14 L484.25,169.94 L484.50,169.15 L484.75,169.12 L485.00,168.99 L485.25,168.67 L485.50,168.34 L485.75,168.83 L486.00,169.09 L486.25,167.84 L486.40,167.86 L486.50,159.62 L486.75,137.29 L487.00,116.81 L487.25,95.66 L487.50,74.17 L487.75,54.45 L488.00,34.70 L488.25,54.16 L488.50,75.58 L488.75,97.36 L489.00,118.22 L489.25,138.81 L489.50,159.86 L489.60,169.60 L489.75,171.46 L490.00,172.66 L490.25,172.01 L490.50,171.69 L490.75,172.09 L491.00,172.44 L491.25,173.52 L491.50,173.88 L491.75,173.89 L492.00,172.57 L492.25,173.42 L492.50,173.55 L492.75,173.47 L493.00,174.01 L493.25,172.60 L493.50,172.32 L493.75,173.25 L494.00,173.82 L494.25,173.54 L494.50,172.81 L494.75,173.07 L495.00,173.41 L495.25,172.40 L495.50,172.45 L495.75,172.33 L496.00,172.06 L496.25,172.56 L496.50,172.17 L496.75,172.15 L497.00,171.97 L497.25,172.79 L497.50,171.90 L497.75,172.80 L498.00,172.17 L498.25,171.70 L498.50,173.03 L498.75,172.23 L499.00,173.16 L499.25,173.31 L499.50,173.37 L499.75,172.11 L500.00,172.23 L500.25,171.65 L500.50,172.86 L500.75,173.05 L501.00,172.73 L501.25,172.32 L501.50,171.98 L501.75,172.67 L502.00,172.28 L502.25,172.39 L502.50,171.59 L502.75,171.46 L503.00,171.12 L503.25,172.10 L503.50,172.10 L503.75,171.39 L504.00,172.37 L504.25,171.63 L504.50,171.62 L504.75,171.17 L505.00,171.20 L505.25,172.13 L505.50,171.54 L505.75,171.05 L506.00,171.42 L506.25,171.20 L506.50,172.09 L506.75,170.99 L507.00,172.07 L507.25,170.81 L507.50,171.79 L507.75,171.65 L508.00,170.77 L508.25,170.89 L508.50,170.52 L508.75,170.25 L509.00,169.95 L509.25,169.95 L509.50,170.76 L509.75,170.68 L510.00,170.03 L510.25,167.73 L510.40,166.90 L510.50,153.59 L510.75,116.70 L511.00,81.72 L511.25,45.45 L511.40,26.10 L511.50,38.01 L511.75,74.76 L512.00,110.08 L512.25,145.41 L512.40,166.52 L512.50,170.06 L512.75,170.80 L513.00,170.76 L513.25,171.37 L513.50,172.48 L513.75,171.74 L514.00,172.16 L514.25,171.60 L514.50,171.52 L514.75,172.50 L515.00,172.70 L515.25,171.90 L515.50,171.46 L515.75,171.34 L516.00,172.17 L516.25,172.22 L516.50,171.86 L516.75,171.63 L517.00,172.23 L517.25,172.56 L517.50,172.83 L517.75,172.51 L518.00,171.76 L518.25,171.29 L518.50,172.25 L518.75,171.98 L519.00,172.40 L519.25,171.39 L519.50,172.33 L519.75,171.79 L520.00,172.45 L520.25,172.66 L520.50,172.06 L520.75,171.04 L521.00,172.20 L521.25,171.77 L521.50,172.25 L521.75,171.32 L522.00,170.83 L522.25,171.68 L522.50,171.04 L522.75,170.37 L523.00,170.33 L523.25,170.45 L523.50,169.15 L523.75,169.14 L524.00,168.33 L524.20,167.49 L524.25,158.62 L524.50,118.17 L524.75,77.33 L525.00,37.40 L525.25,76.67 L525.50,118.31 L525.75,159.11 L525.80,167.85 L526.00,169.47 L526.25,171.25 L526.50,172.18 L526.75,171.84 L527.00,171.88 L527.25,171.98 L527.50,172.06 L527.75,171.23 L528.00,172.58 L528.25,171.73 L528.50,171.39 L528.75,171.14 L529.00,171.30 L529.25,172.27 L529.50,171.21 L529.75,170.98 L530.00,171.89 L530.25,171.28 L530.50,170.75 L530.75,171.52 L531.00,171.66 L531.25,171.55 L531.50,171.74 L531.75,170.70 L532.00,171.56 L532.25,171.41 L532.50,170.05 L532.75,169.50 L533.00,169.60 L533.25,169.12 L533.50,167.87 L533.65,166.75 L533.75,151.48 L534.00,112.04 L534.25,73.61 L534.40,52.10 L534.50,65.43 L534.75,104.92 L535.00,144.42 L535.15,167.02 L535.25,170.13 L535.50,171.43 L535.75,171.20 L536.00,171.38 L536.25,172.26 L536.50,172.08 L536.75,171.85 L537.00,172.72 L537.25,172.72 L537.50,171.99 L537.75,171.60 L538.00,171.63 L538.25,171.79 L538.50,172.74 L538.75,172.71 L539.00,172.86 L539.25,172.71 L539.50,172.70 L539.75,171.32 L540.00,171.66 L540.25,172.46 L540.50,172.62 L540.75,171.46 L541.00,171.35 L541.25,171.60 L541.50,171.15 L541.75,171.20 L542.00,170.32 L542.25,170.52 L542.50,170.51 L542.75,169.42 L543.00,168.93 L543.25,169.66 L543.50,168.80 L543.65,168.34 L543.75,151.27 L544.00,109.82 L544.25,68.37 L544.40,44.50 L544.50,58.67 L544.75,100.87 L545.00,142.01 L545.15,167.53 L545.25,169.27 L545.50,170.41 L545.75,171.69 L546.00,171.76 L546.25,171.27 L546.50,171.65 L546.75,171.65 L547.00,172.54 L547.25,171.69 L547.50,171.46 L547.75,171.94 L548.00,171.18 L548.25,171.72 L548.50,172.45 L548.75,171.88 L549.00,171.26 L549.25,171.34 L549.50,171.42 L549.75,170.72 L550.00,170.38 L550.25,170.18 L550.50,170.24 L550.75,170.27 L551.00,169.82 L551.25,169.27 L551.50,168.36 L551.75,168.16 L551.95,167.88 L552.00,159.75 L552.25,119.84 L552.50,80.15 L552.70,50.00 L552.75,56.19 L553.00,95.71 L553.25,135.54 L553.45,167.47 L553.50,169.31 L553.75,169.90 L554.00,170.28 L554.25,170.56 L554.50,171.26 L554.75,171.33 L555.00,171.72 L555.25,170.89 L555.50,171.21 L555.75,172.15 L556.00,171.36 L556.25,171.63 L556.50,171.55 L556.75,171.14 L557.00,172.14 L557.25,171.21 L557.50,171.65 L557.75,170.66 L558.00,170.09 L558.25,171.12 L558.50,170.50 L558.75,169.41 L559.00,169.26 L559.25,168.78 L559.50,168.38 L559.65,166.74 L559.75,151.38 L560.00,114.38 L560.25,76.16 L560.40,54.70 L560.50,67.52 L560.75,105.73 L561.00,144.45 L561.15,167.41 L561.25,170.08 L561.50,170.99 L561.75,171.04 L562.00,171.60 L562.25,171.89 L562.50,172.06 L562.75,171.66 L563.00,172.06 L563.25,172.04 L563.50,172.35 L563.75,171.08 L564.00,171.90 L564.25,170.62 L564.50,171.44 L564.75,171.29 L565.00,170.98 L565.25,171.52 L565.50,170.82 L565.75,170.08 L566.00,170.11 L566.25,169.74 L566.50,168.43 L566.65,167.18 L566.75,151.28 L567.00,111.57 L567.25,72.31 L567.40,50.20 L567.50,63.75 L567.75,103.69 L568.00,143.14 L568.15,166.77 L568.25,169.75 L568.50,170.91 L568.75,170.96 L569.00,171.06 L569.25,170.75 L569.50,170.92 L569.75,170.73 L570.00,171.40 L570.25,171.59 L570.50,170.79 L570.75,171.90 L571.00,171.18 L571.25,171.77 L571.50,171.85 L571.75,171.98 L572.00,170.62 L572.25,170.41 L572.50,170.94 L572.75,169.28 L573.00,168.42 L573.25,168.43 L573.50,167.45 L573.55,167.92 L573.75,140.62 L574.00,106.12 L574.25,72.67 L574.30,67.00 L574.50,92.30 L574.75,126.58 L575.00,160.20 L575.05,166.83 L575.25,169.80 L575.50,170.19 L575.75,171.55 L576.00,171.65 L576.25,171.51 L576.50,170.79 L576.75,171.05 L577.00,171.16 L577.25,171.44 L577.50,171.51 L577.75,171.99 L578.00,172.21 L578.25,171.40 L578.50,170.98 L578.75,171.04 L579.00,171.52 L579.25,170.36 L579.50,170.04 L579.75,170.02 L580.00,168.37 L580.25,167.32 L580.35,167.89 L580.50,145.39 L580.75,107.26 L581.00,68.80 L581.10,56.40 L581.25,77.35 L581.50,115.14 L581.75,153.07 L581.85,168.04 L582.00,169.68 L582.25,169.76 L582.50,170.27 L582.75,170.95 L583.00,171.24 L583.25,170.84 L583.50,170.73 L583.75,171.45 L584.00,171.60 L584.25,171.19 L584.50,172.09 L584.75,171.71 L585.00,170.52 L585.25,170.70 L585.50,171.27 L585.75,170.50 L586.00,170.73 L586.25,169.40 L586.50,169.18 L586.75,169.56 L587.00,168.60 L587.25,167.50 L587.50,140.95 L587.75,115.43 L588.00,91.90 L588.25,115.11 L588.50,141.36 L588.75,167.05 L589.00,170.61 L589.25,170.76 L589.50,170.74 L589.75,170.36 L590.00,170.37 L590.25,171.41 L590.50,170.62 L590.75,170.33 L591.00,170.31 L591.25,170.82 L591.50,171.38 L591.75,171.06 L592.00,171.12 L592.25,169.65 L592.50,168.80 L592.75,169.37 L593.00,168.14 L593.25,167.50 L593.50,125.80 L593.75,84.10 L594.00,45.50 L594.25,83.82 L594.50,126.30 L594.75,167.35 L595.00,169.70 L595.25,170.38 L595.50,170.70 L595.75,170.37 L596.00,171.75 L596.25,171.69 L596.50,172.31 L596.75,171.61 L597.00,171.68 L597.25,171.04 L597.50,170.45 L597.75,171.70 L598.00,171.87 L598.25,170.90 L598.50,171.46 L598.75,171.31 L599.00,170.16 L599.25,169.98 L599.50,170.05 L599.75,168.60 L599.95,168.23 L600.00,159.35 L600.25,119.78 L600.50,80.51 L600.70,50.00 L600.75,55.49 L601.00,94.97 L601.25,133.14 L601.45,164.47 L601.50,165.58 L601.75,165.71 L602.00,166.37 L602.25,166.55 L602.50,168.06 L602.75,167.45 L603.00,167.77 L603.25,167.13 L603.50,167.64 L603.75,167.52 L604.00,167.46 L604.25,166.77 L604.50,166.51 L604.75,167.37 L605.00,166.50 L605.25,165.62 L605.50,164.78 L605.75,164.19 L606.00,163.56 L606.25,162.82 L606.50,163.67 L606.75,163.61 L607.00,163.65 L607.25,165.00 L607.50,164.76 L607.75,165.29 L608.00,166.60 L608.25,165.93 L608.50,166.31 L608.75,167.10 L609.00,167.28 L609.25,166.24 L609.50,166.25 L609.75,166.87 L610.00,166.47 L610.25,167.33 L610.50,166.33 L610.75,167.28 L611.00,166.81 L611.25,166.21 L611.50,166.40 L611.75,165.92 L612.00,166.74 L612.25,166.24 L612.50,167.16 L612.75,166.92 L613.00,166.47 L613.25,166.14 L613.50,166.64 L613.75,166.13 L614.00,167.09 L614.25,166.11 L614.50,166.48 L614.75,166.64 L615.00,166.23 L615.25,166.95 L615.50,166.51 L615.75,166.84 L616.00,166.79 L616.25,166.34 L616.50,166.34 L616.75,165.83 L617.00,165.83 L617.25,166.96 L617.50,166.41 L617.75,166.82 L618.00,166.02 L618.25,166.53 L618.50,166.35 L618.75,166.53 L619.00,166.25 L619.25,165.77 L619.50,166.04 L619.75,165.98 L620.00,165.79 L620.25,166.73 L620.50,166.28 L620.75,166.35 L621.00,167.22 L621.25,167.26 L621.50,167.45 L621.75,167.47 L622.00,166.26 L622.25,166.13 L622.50,165.68 L622.75,166.64 L623.00,166.90 L623.25,166.46 L623.50,166.42 L623.75,166.83 L624.00,167.02 L624.25,166.32 L624.50,167.12 L624.75,166.52 L625.00,166.81 L625.25,166.15 L625.50,165.84 L625.75,167.08 L626.00,167.16 L626.25,167.15 L626.50,166.01 L626.75,165.67 L627.00,165.78 L627.25,165.87 L627.50,166.07 L627.75,166.27 L628.00,165.75 L628.25,166.05 L628.50,166.70 L628.75,166.12 L629.00,167.05 L629.25,166.88 L629.50,167.08 L629.75,166.36 L630.00,166.45 L630.25,166.90 L630.50,166.47 L630.75,165.76 L631.00,166.94 L631.25,167.20 L631.50,166.46 L631.75,165.83 L632.00,167.00 L632.25,166.94 L632.50,165.98 L632.75,166.02 L633.00,165.81 L633.25,166.90 L633.50,166.24 L633.75,167.23 L634.00,167.25 L634.25,166.14 L634.50,166.84 L634.75,166.54 L635.00,167.04 L635.25,167.33 L635.50,166.50 L635.75,165.93 L636.00,167.20 L636.25,166.70 L636.50,167.41 L636.75,167.22 L637.00,167.24 L637.25,167.40 L637.50,167.11 L637.75,166.73 L638.00,165.95 L638.25,166.79 L638.50,166.60 L638.75,166.68 L639.00,167.40 L639.25,166.28 L639.50,167.00 L639.75,166.02 L640.00,166.83 L640.25,167.25 L640.50,166.46 L640.75,166.70 L641.00,167.49 L641.25,167.16 L641.50,166.91 L641.75,166.34 L642.00,165.85 L642.25,166.21 L642.50,166.41 L642.75,166.11 L643.00,166.21 L643.25,165.95 L643.50,166.83 L643.75,167.03 L644.00,166.37 L644.25,166.17 L644.50,166.58 L644.75,166.58 L645.00,167.41 L645.25,166.67 L645.50,166.37 L645.75,167.26 L646.00,166.28 L646.25,166.70 L646.50,166.43 L646.75,167.17 L647.00,166.94 L647.25,167.23 L647.50,166.32 L647.75,166.89 L648.00,166.94 L648.25,166.73 L648.50,167.18 L648.75,167.42 L649.00,166.29 L649.25,166.25 L649.50,166.36 L649.75,166.13 L650.00,165.82 L650.25,166.10 L650.50,166.04 L650.75,166.87 L651.00,166.69 L651.25,166.08 L651.50,166.25 L651.75,166.55 L652.00,166.46 L652.25,166.10 L652.50,165.84 L652.75,165.65 L653.00,167.25 L653.25,167.32 L653.50,166.23 L653.75,166.96 L654.00,167.62 L654.25,167.12 L654.50,166.21 L654.75,166.58 L655.00,166.59 L655.25,166.19 L655.50,166.66 L655.75,165.91 L656.00,167.21 L656.25,167.14 L656.50,167.09 L656.75,167.60 L657.00,167.27 L657.25,166.50 L657.50,166.26 L657.75,166.01 L658.00,165.75 L658.25,166.93 L658.50,167.39 L658.75,166.62 L659.00,166.20 L659.25,166.83 L659.50,167.37 L659.75,167.67 L660.00,166.49 L660.25,167.17 L660.50,167.45 L660.75,167.39 L661.00,166.67 L661.25,166.22 L661.50,167.16 L661.75,166.59 L662.00,166.51 L662.25,166.79 L662.50,166.57 L662.75,167.28 L663.00,166.50 L663.25,165.93 L663.50,166.64 L663.75,166.96 L664.00,167.38 L664.25,167.31 L664.50,167.63 L664.75,167.79 L665.00,167.08 L665.25,166.88 L665.50,166.24 L665.75,166.29 L666.00,166.78 L666.25,166.08 L666.50,166.90 L666.75,166.26 L667.00,166.54 L667.25,167.51 L667.50,166.32 L667.75,165.88 L668.00,166.42 L668.25,166.16 L668.50,166.98 L668.75,166.02 L669.00,167.14 L669.25,167.50 L669.50,167.49 L669.75,166.88 L670.00,166.46 L670.25,166.97 L670.50,166.87 L670.75,166.69 L671.00,166.49 L671.25,166.60 L671.50,167.02 L671.75,167.41 L672.00,167.66 L672.25,166.49 L672.50,166.37 L672.75,166.57 L673.00,166.84 L673.25,166.56 L673.50,166.22 L673.75,165.93 L674.00,166.24" fill="none" stroke="#3c3c3c" stroke-width="0.8" stroke-linejoin="miter" stroke-miterlimit="2"/>
<path d="M426.00,167.57 L426.25,168.26 L426.50,167.01 L426.75,167.79 L427.00,167.87 L427.25,167.41 L427.50,168.15 L427.75,167.54 L428.00,167.54 L428.25,167.62 L428.50,168.06 L428.75,167.25 L429.00,167.38 L429.25,167.40 L429.50,167.63 L429.75,168.15 L430.00,167.41 L430.25,168.09 L430.50,167.58 L430.75,167.59 L431.00,167.21 L431.25,167.49 L431.50,168.36 L431.75,168.08 L432.00,168.22 L432.25,167.49 L432.50,167.25 L432.75,167.15 L433.00,167.60 L433.25,167.81 L433.50,168.13 L433.75,166.97 L434.00,167.77 L434.25,168.28 L434.50,167.86 L434.75,166.90 L435.00,167.03 L435.25,166.58 L435.50,166.75 L435.75,168.03 L436.00,167.89 L436.25,167.92 L436.50,168.15 L436.75,168.43 L437.00,168.00 L437.25,167.89 L437.50,167.87 L437.75,167.98 L438.00,167.84 L438.25,167.94 L438.50,167.18 L438.75,167.71 L439.00,167.52 L439.25,167.98 L439.50,167.00 L439.75,166.84 L440.00,166.55 L440.25,167.70 L440.50,168.27 L440.75,168.01 L441.00,167.45 L441.25,168.04 L441.50,168.16 L441.75,167.81 L442.00,167.20 L442.25,167.09 L442.50,167.25 L442.75,167.13 L443.00,167.28 L443.25,167.67 L443.50,168.28 L443.75,166.99 L444.00,167.46 L444.25,166.71 L444.50,166.62 L444.75,167.75 L445.00,167.69 L445.25,168.25 L445.50,167.62 L445.75,166.71 L446.00,167.06 L446.25,167.51 L446.50,168.22 L446.75,168.50 L447.00,167.74 L447.25,167.40 L447.50,166.78 L447.75,167.50 L448.00,166.99 L448.25,166.73 L448.50,166.42 L448.75,166.31 L449.00,167.42 L449.25,166.80 L449.50,168.03 L449.75,166.93 L450.00,167.91 L450.25,166.95 L450.50,166.48 L450.75,167.51 L451.00,167.02 L451.25,167.69 L451.50,166.98 L451.75,166.53 L452.00,167.61 L452.25,167.83 L452.50,168.13 L452.75,168.01 L453.00,166.88 L453.25,167.46 L453.50,167.76 L453.75,167.43 L454.00,168.12 L454.25,167.19 L454.50,168.10 L454.75,167.95 L455.00,166.72 L455.25,166.35 L455.50,167.30 L455.75,167.86 L456.00,166.78 L456.25,166.84 L456.50,167.56 L456.75,166.82 L457.00,167.76 L457.25,167.40 L457.50,166.57 L457.75,166.83 L458.00,167.25 L458.25,167.13 L458.50,167.49 L458.75,166.69 L459.00,167.53 L459.25,167.04 L459.50,167.36 L459.75,167.41 L460.00,167.05 L460.25,166.87 L460.50,167.47 L460.75,167.89 L461.00,167.72 L461.25,167.28 L461.50,166.66 L461.75,166.05 L462.00,167.36 L462.25,167.26 L462.50,167.40 L462.75,166.56 L463.00,166.71 L463.25,167.31 L463.50,167.16 L463.75,166.62 L464.00,165.83 L464.25,165.61 L464.50,166.06 L464.75,164.98 L465.00,164.67 L465.25,163.70 L465.40,163.44 L465.49,158.50 M468.90,163.22 L469.00,170.01 L469.25,171.06 L469.50,172.14 L469.75,171.73 L470.00,171.32 L470.25,172.09 L470.50,172.79 L470.75,172.03 L471.00,172.75 L471.25,173.28 L471.50,172.27 L471.75,172.58 L472.00,172.78 L472.25,172.47 L472.50,171.93 L472.75,171.83 L473.00,172.61 L473.25,172.89 L473.50,172.39 L473.75,171.59 L474.00,172.54 L474.25,172.73 L474.50,171.86 L474.75,172.15 L475.00,172.74 L475.25,172.86 L475.50,172.26 L475.75,171.97 L476.00,172.04 L476.25,171.35 L476.50,171.12 L476.75,170.99 L477.00,171.80 L477.25,171.43 L477.50,171.63 L477.75,171.38 L478.00,171.46 L478.25,170.83 L478.50,170.43 L478.75,171.88 L479.00,171.23 L479.25,170.55 L479.50,171.19 L479.75,171.61 L480.00,170.64 L480.25,171.05 L480.50,170.72 L480.75,170.87 L481.00,170.05 L481.25,169.78 L481.50,171.28 L481.75,171.48 L482.00,170.86 L482.25,170.78 L482.50,170.20 L482.75,170.85 L483.00,170.41 L483.25,171.11 L483.50,170.97 L483.75,170.96 L484.00,171.14 L484.25,169.94 L484.50,169.15 L484.75,169.12 L485.00,168.99 L485.25,168.67 L485.50,168.34 L485.75,168.83 L486.00,169.09 L486.25,167.84 L486.40,167.86 L486.46,162.92 M489.54,164.20 L489.60,169.60 L489.75,171.46 L490.00,172.66 L490.25,172.01 L490.50,171.69 L490.75,172.09 L491.00,172.44 L491.25,173.52 L491.50,173.88 L491.75,173.89 L492.00,172.57 L492.25,173.42 L492.50,173.55 L492.75,173.47 L493.00,174.01 L493.25,172.60 L493.50,172.32 L493.75,173.25 L494.00,173.82 L494.25,173.54 L494.50,172.81 L494.75,173.07 L495.00,173.41 L495.25,172.40 L495.50,172.45 L495.75,172.33 L496.00,172.06 L496.25,172.56 L496.50,172.17 L496.75,172.15 L497.00,171.97 L497.25,172.79 L497.50,171.90 L497.75,172.80 L498.00,172.17 L498.25,171.70 L498.50,173.03 L498.75,172.23 L499.00,173.16 L499.25,173.31 L499.50,173.37 L499.75,172.11 L500.00,172.23 L500.25,171.65 L500.50,172.86 L500.75,173.05 L501.00,172.73 L501.25,172.32 L501.50,171.98 L501.75,172.67 L502.00,172.28 L502.25,172.39 L502.50,171.59 L502.75,171.46 L503.00,171.12 L503.25,172.10 L503.50,172.10 L503.75,171.39 L504.00,172.37 L504.25,171.63 L504.50,171.62 L504.75,171.17 L505.00,171.20 L505.25,172.13 L505.50,171.54 L505.75,171.05 L506.00,171.42 L506.25,171.20 L506.50,172.09 L506.75,170.99 L507.00,172.07 L507.25,170.81 L507.50,171.79 L507.75,171.65 L508.00,170.77 L508.25,170.89 L508.50,170.52 L508.75,170.25 L509.00,169.95 L509.25,169.95 L509.50,170.76 L509.75,170.68 L510.00,170.03 L510.25,167.73 L510.40,166.90 L510.43,163.19 M512.38,163.38 L512.40,166.52 L512.50,170.06 L512.75,170.80 L513.00,170.76 L513.25,171.37 L513.50,172.48 L513.75,171.74 L514.00,172.16 L514.25,171.60 L514.50,171.52 L514.75,172.50 L515.00,172.70 L515.25,171.90 L515.50,171.46 L515.75,171.34 L516.00,172.17 L516.25,172.22 L516.50,171.86 L516.75,171.63 L517.00,172.23 L517.25,172.56 L517.50,172.83 L517.75,172.51 L518.00,171.76 L518.25,171.29 L518.50,172.25 L518.75,171.98 L519.00,172.40 L519.25,171.39 L519.50,172.33 L519.75,171.79 L520.00,172.45 L520.25,172.66 L520.50,172.06 L520.75,171.04 L521.00,172.20 L521.25,171.77 L521.50,172.25 L521.75,171.32 L522.00,170.83 L522.25,171.68 L522.50,171.04 L522.75,170.37 L523.00,170.33 L523.25,170.45 L523.50,169.15 L523.75,169.14 L524.00,168.33 L524.20,167.49 L524.22,163.39 M525.77,163.39 L525.80,167.85 L526.00,169.47 L526.25,171.25 L526.50,172.18 L526.75,171.84 L527.00,171.88 L527.25,171.98 L527.50,172.06 L527.75,171.23 L528.00,172.58 L528.25,171.73 L528.50,171.39 L528.75,171.14 L529.00,171.30 L529.25,172.27 L529.50,171.21 L529.75,170.98 L530.00,171.89 L530.25,171.28 L530.50,170.75 L530.75,171.52 L531.00,171.66 L531.25,171.55 L531.50,171.74 L531.75,170.70 L532.00,171.56 L532.25,171.41 L532.50,170.05 L532.75,169.50 L533.00,169.60 L533.25,169.12 L533.50,167.87 L533.65,166.75 L533.67,163.37 M535.13,163.37 L535.15,167.02 L535.25,170.13 L535.50,171.43 L535.75,171.20 L536.00,171.38 L536.25,172.26 L536.50,172.08 L536.75,171.85 L537.00,172.72 L537.25,172.72 L537.50,171.99 L537.75,171.60 L538.00,171.63 L538.25,171.79 L538.50,172.74 L538.75,172.71 L539.00,172.86 L539.25,172.71 L539.50,172.70 L539.75,171.32 L540.00,171.66 L540.25,172.46 L540.50,172.62 L540.75,171.46 L541.00,171.35 L541.25,171.60 L541.50,171.15 L541.75,171.20 L542.00,170.32 L542.25,170.52 L542.50,170.51 L542.75,169.42 L543.00,168.93 L543.25,169.66 L543.50,168.80 L543.65,168.34 L543.68,163.34 M545.13,163.34 L545.15,167.53 L545.25,169.27 L545.50,170.41 L545.75,171.69 L546.00,171.76 L546.25,171.27 L546.50,171.65 L546.75,171.65 L547.00,172.54 L547.25,171.69 L547.50,171.46 L547.75,171.94 L548.00,171.18 L548.25,171.72 L548.50,172.45 L548.75,171.88 L549.00,171.26 L549.25,171.34 L549.50,171.42 L549.75,170.72 L550.00,170.38 L550.25,170.18 L550.50,170.24 L550.75,170.27 L551.00,169.82 L551.25,169.27 L551.50,168.36 L551.75,168.16 L551.95,167.88 L551.98,163.32 M553.42,163.31 L553.45,167.47 L553.50,169.31 L553.75,169.90 L554.00,170.28 L554.25,170.56 L554.50,171.26 L554.75,171.33 L555.00,171.72 L555.25,170.89 L555.50,171.21 L555.75,172.15 L556.00,171.36 L556.25,171.63 L556.50,171.55 L556.75,171.14 L557.00,172.14 L557.25,171.21 L557.50,171.65 L557.75,170.66 L558.00,170.09 L558.25,171.12 L558.50,170.50 L558.75,169.41 L559.00,169.26 L559.25,168.78 L559.50,168.38 L559.65,166.74 L559.67,163.29 M561.12,163.28 L561.15,167.41 L561.25,170.08 L561.50,170.99 L561.75,171.04 L562.00,171.60 L562.25,171.89 L562.50,172.06 L562.75,171.66 L563.00,172.06 L563.25,172.04 L563.50,172.35 L563.75,171.08 L564.00,171.90 L564.25,170.62 L564.50,171.44 L564.75,171.29 L565.00,170.98 L565.25,171.52 L565.50,170.82 L565.75,170.08 L566.00,170.11 L566.25,169.74 L566.50,168.43 L566.65,167.18 L566.67,163.26 M568.13,163.26 L568.15,166.77 L568.25,169.75 L568.50,170.91 L568.75,170.96 L569.00,171.06 L569.25,170.75 L569.50,170.92 L569.75,170.73 L570.00,171.40 L570.25,171.59 L570.50,170.79 L570.75,171.90 L571.00,171.18 L571.25,171.77 L571.50,171.85 L571.75,171.98 L572.00,170.62 L572.25,170.41 L572.50,170.94 L572.75,169.28 L573.00,168.42 L573.25,168.43 L573.50,167.45 L573.55,167.92 L573.58,163.24 M575.02,163.24 L575.05,166.83 L575.25,169.80 L575.50,170.19 L575.75,171.55 L576.00,171.65 L576.25,171.51 L576.50,170.79 L576.75,171.05 L577.00,171.16 L577.25,171.44 L577.50,171.51 L577.75,171.99 L578.00,172.21 L578.25,171.40 L578.50,170.98 L578.75,171.04 L579.00,171.52 L579.25,170.36 L579.50,170.04 L579.75,170.02 L580.00,168.37 L580.25,167.32 L580.35,167.89 L580.38,163.22 M581.82,163.22 L581.85,168.04 L582.00,169.68 L582.25,169.76 L582.50,170.27 L582.75,170.95 L583.00,171.24 L583.25,170.84 L583.50,170.73 L583.75,171.45 L584.00,171.60 L584.25,171.19 L584.50,172.09 L584.75,171.71 L585.00,170.52 L585.25,170.70 L585.50,171.27 L585.75,170.50 L586.00,170.73 L586.25,169.40 L586.50,169.18 L586.75,169.56 L587.00,168.60 L587.25,167.50 L587.29,163.21 M588.71,163.21 L588.75,167.05 L589.00,170.61 L589.25,170.76 L589.50,170.74 L589.75,170.36 L590.00,170.37 L590.25,171.41 L590.50,170.62 L590.75,170.33 L591.00,170.31 L591.25,170.82 L591.50,171.38 L591.75,171.06 L592.00,171.12 L592.25,169.65 L592.50,168.80 L592.75,169.37 L593.00,168.14 L593.25,167.50 L593.28,163.20 M594.72,163.20 L594.75,167.35 L595.00,169.70 L595.25,170.38 L595.50,170.70 L595.75,170.37 L596.00,171.75 L596.25,171.69 L596.50,172.31 L596.75,171.61 L597.00,171.68 L597.25,171.04 L597.50,170.45 L597.75,171.70 L598.00,171.87 L598.25,170.90 L598.50,171.46 L598.75,171.31 L599.00,170.16 L599.25,169.98 L599.50,170.05 L599.75,168.60 L599.95,168.23 L599.98,163.20 M601.42,159.82 L601.45,164.47 L601.50,165.58 L601.75,165.71 L602.00,166.37 L602.25,166.55 L602.50,168.06 L602.75,167.45 L603.00,167.77 L603.25,167.13 L603.50,167.64 L603.75,167.52 L604.00,167.46 L604.25,166.77 L604.50,166.51 L604.75,167.37 L605.00,166.50 L605.25,165.62 L605.50,164.78 L605.75,164.19 L606.00,163.56 L606.25,162.82 L606.50,163.67 L606.75,163.61 L607.00,163.65 L607.25,165.00 L607.50,164.76 L607.75,165.29 L608.00,166.60 L608.25,165.93 L608.50,166.31 L608.75,167.10 L609.00,167.28 L609.25,166.24 L609.50,166.25 L609.75,166.87 L610.00,166.47 L610.25,167.33 L610.50,166.33 L610.75,167.28 L611.00,166.81 L611.25,166.21 L611.50,166.40 L611.75,165.92 L612.00,166.74 L612.25,166.24 L612.50,167.16 L612.75,166.92 L613.00,166.47 L613.25,166.14 L613.50,166.64 L613.75,166.13 L614.00,167.09 L614.25,166.11 L614.50,166.48 L614.75,166.64 L615.00,166.23 L615.25,166.95 L615.50,166.51 L615.75,166.84 L616.00,166.79 L616.25,166.34 L616.50,166.34 L616.75,165.83 L617.00,165.83 L617.25,166.96 L617.50,166.41 L617.75,166.82 L618.00,166.02 L618.25,166.53 L618.50,166.35 L618.75,166.53 L619.00,166.25 L619.25,165.77 L619.50,166.04 L619.75,165.98 L620.00,165.79 L620.25,166.73 L620.50,166.28 L620.75,166.35 L621.00,167.22 L621.25,167.26 L621.50,167.45 L621.75,167.47 L622.00,166.26 L622.25,166.13 L622.50,165.68 L622.75,166.64 L623.00,166.90 L623.25,166.46 L623.50,166.42 L623.75,166.83 L624.00,167.02 L624.25,166.32 L624.50,167.12 L624.75,166.52 L625.00,166.81 L625.25,166.15 L625.50,165.84 L625.75,167.08 L626.00,167.16 L626.25,167.15 L626.50,166.01 L626.75,165.67 L627.00,165.78 L627.25,165.87 L627.50,166.07 L627.75,166.27 L628.00,165.75 L628.25,166.05 L628.50,166.70 L628.75,166.12 L629.00,167.05 L629.25,166.88 L629.50,167.08 L629.75,166.36 L630.00,166.45 L630.25,166.90 L630.50,166.47 L630.75,165.76 L631.00,166.94 L631.25,167.20 L631.50,166.46 L631.75,165.83 L632.00,167.00 L632.25,166.94 L632.50,165.98 L632.75,166.02 L633.00,165.81 L633.25,166.90 L633.50,166.24 L633.75,167.23 L634.00,167.25 L634.25,166.14 L634.50,166.84 L634.75,166.54 L635.00,167.04 L635.25,167.33 L635.50,166.50 L635.75,165.93 L636.00,167.20 L636.25,166.70 L636.50,167.41 L636.75,167.22 L637.00,167.24 L637.25,167.40 L637.50,167.11 L637.75,166.73 L638.00,165.95 L638.25,166.79 L638.50,166.60 L638.75,166.68 L639.00,167.40 L639.25,166.28 L639.50,167.00 L639.75,166.02 L640.00,166.83 L640.25,167.25 L640.50,166.46 L640.75,166.70 L641.00,167.49 L641.25,167.16 L641.50,166.91 L641.75,166.34 L642.00,165.85 L642.25,166.21 L642.50,166.41 L642.75,166.11 L643.00,166.21 L643.25,165.95 L643.50,166.83 L643.75,167.03 L644.00,166.37 L644.25,166.17 L644.50,166.58 L644.75,166.58 L645.00,167.41 L645.25,166.67 L645.50,166.37 L645.75,167.26 L646.00,166.28 L646.25,166.70 L646.50,166.43 L646.75,167.17 L647.00,166.94 L647.25,167.23 L647.50,166.32 L647.75,166.89 L648.00,166.94 L648.25,166.73 L648.50,167.18 L648.75,167.42 L649.00,166.29 L649.25,166.25 L649.50,166.36 L649.75,166.13 L650.00,165.82 L650.25,166.10 L650.50,166.04 L650.75,166.87 L651.00,166.69 L651.25,166.08 L651.50,166.25 L651.75,166.55 L652.00,166.46 L652.25,166.10 L652.50,165.84 L652.75,165.65 L653.00,167.25 L653.25,167.32 L653.50,166.23 L653.75,166.96 L654.00,167.62 L654.25,167.12 L654.50,166.21 L654.75,166.58 L655.00,166.59 L655.25,166.19 L655.50,166.66 L655.75,165.91 L656.00,167.21 L656.25,167.14 L656.50,167.09 L656.75,167.60 L657.00,167.27 L657.25,166.50 L657.50,166.26 L657.75,166.01 L658.00,165.75 L658.25,166.93 L658.50,167.39 L658.75,166.62 L659.00,166.20 L659.25,166.83 L659.50,167.37 L659.75,167.67 L660.00,166.49 L660.25,167.17 L660.50,167.45 L660.75,167.39 L661.00,166.67 L661.25,166.22 L661.50,167.16 L661.75,166.59 L662.00,166.51 L662.25,166.79 L662.50,166.57 L662.75,167.28 L663.00,166.50 L663.25,165.93 L663.50,166.64 L663.75,166.96 L664.00,167.38 L664.25,167.31 L664.50,167.63 L664.75,167.79 L665.00,167.08 L665.25,166.88 L665.50,166.24 L665.75,166.29 L666.00,166.78 L666.25,166.08 L666.50,166.90 L666.75,166.26 L667.00,166.54 L667.25,167.51 L667.50,166.32 L667.75,165.88 L668.00,166.42 L668.25,166.16 L668.50,166.98 L668.75,166.02 L669.00,167.14 L669.25,167.50 L669.50,167.49 L669.75,166.88 L670.00,166.46 L670.25,166.97 L670.50,166.87 L670.75,166.69 L671.00,166.49 L671.25,166.60 L671.50,167.02 L671.75,167.41 L672.00,167.66 L672.25,166.49 L672.50,166.37 L672.75,166.57 L673.00,166.84 L673.25,166.56 L673.50,166.22 L673.75,165.93 L674.00,166.24" fill="none" stroke="#1a1a1a" stroke-width="1.0" stroke-linejoin="round"/>
<line x1="607.40" y1="186.20" x2="682.50" y2="186.20" stroke="#111" stroke-width="1.3" />
<line x1="608.00" y1="183.70" x2="608.00" y2="189.90" stroke="#111" stroke-width="1.3" />
<line x1="681.90" y1="183.70" x2="681.90" y2="189.90" stroke="#111" stroke-width="1.3" />
<text x="645.00" y="198.10" font-size="11.3" text-anchor="middle" fill="#111" >1 hour</text>
<text x="2.00" y="313.00" font-size="20" text-anchor="start" font-weight="bold" fill="#000" >c</text>
<text x="181.20" y="283.60" font-size="15.4" text-anchor="middle" font-weight="bold" fill="#000" >Oscillation frequency</text>
<line x1="68.50" y1="321.60" x2="68.50" y2="477.90" stroke="#000" stroke-width="2" />
<line x1="67.50" y1="476.90" x2="300.00" y2="476.90" stroke="#000" stroke-width="2" />
<line x1="62.50" y1="476.90" x2="68.50" y2="476.90" stroke="#000" stroke-width="2" />
<text x="61.90" y="481.40" font-size="11.5" text-anchor="end" font-weight="bold" fill="#000" >0</text>
<line x1="62.50" y1="438.30" x2="68.50" y2="438.30" stroke="#000" stroke-width="2" />
<text x="61.90" y="442.80" font-size="11.5" text-anchor="end" font-weight="bold" fill="#000" >10</text>
<line x1="62.50" y1="399.70" x2="68.50" y2="399.70" stroke="#000" stroke-width="2" />
<text x="61.90" y="404.20" font-size="11.5" text-anchor="end" font-weight="bold" fill="#000" >20</text>
<line x1="62.50" y1="361.10" x2="68.50" y2="361.10" stroke="#000" stroke-width="2" />
<text x="61.90" y="365.60" font-size="11.5" text-anchor="end" font-weight="bold" fill="#000" >30</text>
<line x1="62.50" y1="322.50" x2="68.50" y2="322.50" stroke="#000" stroke-width="2" />
<text x="61.90" y="327.00" font-size="11.5" text-anchor="end" font-weight="bold" fill="#000" >40</text>
<rect x="87.3" y="418" width="77.7" height="58.90" fill="#fff" stroke="#6e6e6e" stroke-width="1.15"/>
<rect x="203.5" y="421.3" width="77.2" height="55.60" fill="#fff" stroke="#6e6e6e" stroke-width="1.15"/>
<line x1="106.60" y1="412.80" x2="145.70" y2="412.80" stroke="#858585" stroke-width="1.4" />
<line x1="106.60" y1="422.90" x2="145.70" y2="422.90" stroke="#858585" stroke-width="1.4" />
<line x1="126.10" y1="412.80" x2="126.10" y2="422.90" stroke="#858585" stroke-width="1.4" />
<line x1="222.80" y1="416.60" x2="261.80" y2="416.60" stroke="#858585" stroke-width="1.4" />
<line x1="222.80" y1="425.40" x2="261.80" y2="425.40" stroke="#858585" stroke-width="1.4" />
<line x1="242.30" y1="416.60" x2="242.30" y2="425.40" stroke="#858585" stroke-width="1.4" />
<line x1="67.50" y1="476.90" x2="300.00" y2="476.90" stroke="#000" stroke-width="2" />
<line x1="68.50" y1="321.60" x2="68.50" y2="477.90" stroke="#000" stroke-width="2" />
<line x1="106.00" y1="318.90" x2="254.80" y2="318.90" stroke="#000" stroke-width="2" />
<text x="178.60" y="316.20" font-size="11.4" text-anchor="middle" fill="#222" >ns; P=0.97</text>
<circle cx="126.2" cy="338.3" r="2.5" fill="#000"/>
<circle cx="126.2" cy="365.3" r="2.5" fill="#000"/>
<circle cx="122.7" cy="373.1" r="2.5" fill="#000"/>
<circle cx="129.7" cy="373.1" r="2.5" fill="#000"/>
<circle cx="122.6" cy="396.1" r="2.5" fill="#000"/>
<circle cx="133" cy="396.1" r="2.5" fill="#000"/>
<circle cx="115.8" cy="400" r="2.5" fill="#000"/>
<circle cx="129.6" cy="400" r="2.5" fill="#000"/>
<circle cx="136.6" cy="400" r="2.5" fill="#000"/>
<circle cx="122.6" cy="403.8" r="2.5" fill="#000"/>
<circle cx="126.1" cy="411.7" r="2.5" fill="#000"/>
<circle cx="112.1" cy="415.5" r="2.5" fill="#000"/>
<circle cx="119.1" cy="415.5" r="2.5" fill="#000"/>
<circle cx="139.9" cy="415.5" r="2.5" fill="#000"/>
<circle cx="126.1" cy="419.4" r="2.5" fill="#000"/>
<circle cx="133" cy="419.4" r="2.5" fill="#000"/>
<circle cx="133" cy="427.2" r="2.5" fill="#000"/>
<circle cx="115.8" cy="431.1" r="2.5" fill="#000"/>
<circle cx="126.1" cy="431.1" r="2.5" fill="#000"/>
<circle cx="112.1" cy="434.9" r="2.5" fill="#000"/>
<circle cx="119.1" cy="434.9" r="2.5" fill="#000"/>
<circle cx="139.9" cy="434.9" r="2.5" fill="#000"/>
<circle cx="126.1" cy="438.8" r="2.5" fill="#000"/>
<circle cx="133" cy="438.8" r="2.5" fill="#000"/>
<circle cx="115.8" cy="442.8" r="2.5" fill="#000"/>
<circle cx="136.6" cy="442.8" r="2.5" fill="#000"/>
<circle cx="122.6" cy="446.6" r="2.5" fill="#000"/>
<circle cx="129.6" cy="446.6" r="2.5" fill="#000"/>
<circle cx="119.1" cy="450.4" r="2.5" fill="#000"/>
<circle cx="126.1" cy="454.5" r="2.5" fill="#000"/>
<circle cx="133" cy="454.5" r="2.5" fill="#000"/>
<circle cx="238.7" cy="400.1" r="2.45" fill="none" stroke="#7a7a7a" stroke-width="1"/>
<circle cx="245.7" cy="400.1" r="2.45" fill="none" stroke="#7a7a7a" stroke-width="1"/>
<circle cx="238.7" cy="407.7" r="2.45" fill="none" stroke="#7a7a7a" stroke-width="1"/>
<circle cx="245.7" cy="407.7" r="2.45" fill="none" stroke="#7a7a7a" stroke-width="1"/>
<circle cx="245.7" cy="415.6" r="2.45" fill="none" stroke="#7a7a7a" stroke-width="1"/>
<circle cx="238.7" cy="419.4" r="2.45" fill="none" stroke="#7a7a7a" stroke-width="1"/>
<circle cx="249.2" cy="423.3" r="2.45" fill="none" stroke="#7a7a7a" stroke-width="1"/>
<circle cx="235.2" cy="427.3" r="2.45" fill="none" stroke="#7a7a7a" stroke-width="1"/>
<circle cx="242.2" cy="427.3" r="2.45" fill="none" stroke="#7a7a7a" stroke-width="1"/>
<circle cx="235.2" cy="438.7" r="2.45" fill="none" stroke="#7a7a7a" stroke-width="1"/>
<circle cx="242.2" cy="442.5" r="2.45" fill="none" stroke="#7a7a7a" stroke-width="1"/>
<circle cx="249.2" cy="442.5" r="2.45" fill="none" stroke="#7a7a7a" stroke-width="1"/>
<text x="124.30" y="490.80" font-size="12.4" text-anchor="middle" font-weight="bold" fill="#000" >Young</text>
<text x="240.30" y="490.80" font-size="12.4" text-anchor="middle" font-weight="bold" fill="#000" >Aged</text>
<text transform="translate(26.8,400.2) rotate(-90)" font-size="12.4" font-weight="bold" text-anchor="middle">Number of oscillations</text>
<text transform="translate(41.0,400.2) rotate(-90)" font-size="12.3" font-weight="bold" text-anchor="middle">(2 hours)</text>
<text x="366.40" y="313.00" font-size="20" text-anchor="start" font-weight="bold" fill="#000" >d</text>
<text x="544.80" y="283.90" font-size="15.3" text-anchor="middle" font-weight="bold" fill="#000" >Oscillation amplitude</text>
<line x1="427.60" y1="321.90" x2="427.60" y2="477.70" stroke="#000" stroke-width="2" />
<line x1="426.60" y1="476.70" x2="660.00" y2="476.70" stroke="#000" stroke-width="2" />
<line x1="422.30" y1="476.70" x2="427.60" y2="476.70" stroke="#000" stroke-width="2" />
<text x="421.30" y="481.20" font-size="11.5" text-anchor="end" font-weight="bold" fill="#000" >1</text>
<line x1="422.30" y1="445.86" x2="427.60" y2="445.86" stroke="#000" stroke-width="2" />
<text x="421.30" y="450.36" font-size="11.5" text-anchor="end" font-weight="bold" fill="#000" >2</text>
<line x1="422.30" y1="415.02" x2="427.60" y2="415.02" stroke="#000" stroke-width="2" />
<text x="421.30" y="419.52" font-size="11.5" text-anchor="end" font-weight="bold" fill="#000" >3</text>
<line x1="422.30" y1="384.18" x2="427.60" y2="384.18" stroke="#000" stroke-width="2" />
<text x="421.30" y="388.68" font-size="11.5" text-anchor="end" font-weight="bold" fill="#000" >4</text>
<line x1="422.30" y1="353.34" x2="427.60" y2="353.34" stroke="#000" stroke-width="2" />
<text x="421.30" y="357.84" font-size="11.5" text-anchor="end" font-weight="bold" fill="#000" >5</text>
<line x1="422.30" y1="322.50" x2="427.60" y2="322.50" stroke="#000" stroke-width="2" />
<text x="421.30" y="327.00" font-size="11.5" text-anchor="end" font-weight="bold" fill="#000" >6</text>
<rect x="446.9" y="388.6" width="77.7" height="88.10" fill="#fff" stroke="#6e6e6e" stroke-width="1.15"/>
<rect x="562.7" y="384.1" width="77.5" height="92.60" fill="#fff" stroke="#6e6e6e" stroke-width="1.15"/>
<line x1="582.10" y1="377.20" x2="621.10" y2="377.20" stroke="#858585" stroke-width="1.4" />
<line x1="582.10" y1="391.10" x2="621.10" y2="391.10" stroke="#858585" stroke-width="1.4" />
<line x1="601.40" y1="377.20" x2="601.40" y2="391.10" stroke="#858585" stroke-width="1.4" />
<line x1="426.60" y1="476.70" x2="659.30" y2="476.70" stroke="#000" stroke-width="2" />
<line x1="427.60" y1="321.90" x2="427.60" y2="477.70" stroke="#000" stroke-width="2" />
<line x1="467.90" y1="326.40" x2="616.30" y2="326.40" stroke="#000" stroke-width="2" />
<text x="539.60" y="323.60" font-size="11.4" text-anchor="middle" fill="#222" >ns; P=0.51</text>
<circle cx="485.7" cy="349.6" r="2.5" fill="#000"/>
<circle cx="475" cy="361.9" r="2.5" fill="#000"/>
<circle cx="482" cy="363.6" r="2.5" fill="#000"/>
<circle cx="496.2" cy="362.9" r="2.5" fill="#000"/>
<circle cx="489.2" cy="367" r="2.5" fill="#000"/>
<circle cx="471.8" cy="373.1" r="2.5" fill="#000"/>
<circle cx="496.2" cy="371.1" r="2.5" fill="#000"/>
<circle cx="489.2" cy="374.3" r="2.5" fill="#000"/>
<circle cx="478.7" cy="377.5" r="2.5" fill="#000"/>
<circle cx="471.8" cy="382.3" r="2.5" fill="#000"/>
<circle cx="482" cy="383.4" r="2.5" fill="#000"/>
<circle cx="492.6" cy="384.2" r="2.5" fill="#000"/>
<circle cx="499.6" cy="382.3" r="2.5" fill="#000"/>
<circle cx="468.2" cy="386.7" r="2.5" fill="#000"/>
<circle cx="475" cy="388.5" r="2.5" fill="#000"/>
<circle cx="496.2" cy="387.4" r="2.5" fill="#000"/>
<circle cx="503.1" cy="386.7" r="2.5" fill="#000"/>
<circle cx="482" cy="391.4" r="2.5" fill="#000"/>
<circle cx="489.2" cy="390.7" r="2.5" fill="#000"/>
<circle cx="461.2" cy="395.9" r="2.5" fill="#000"/>
<circle cx="468.2" cy="398" r="2.5" fill="#000"/>
<circle cx="499.6" cy="396.9" r="2.5" fill="#000"/>
<circle cx="506.4" cy="394.7" r="2.5" fill="#000"/>
<circle cx="475" cy="400.9" r="2.5" fill="#000"/>
<circle cx="485.7" cy="400.9" r="2.5" fill="#000"/>
<circle cx="492.6" cy="400.9" r="2.5" fill="#000"/>
<circle cx="478.7" cy="406.4" r="2.5" fill="#000"/>
<circle cx="485.7" cy="411.5" r="2.5" fill="#000"/>
<circle cx="492.6" cy="409.1" r="2.5" fill="#000"/>
<circle cx="485.7" cy="423.6" r="2.5" fill="#000"/>
<circle cx="485.5" cy="450.2" r="2.5" fill="#000"/>
<line x1="466.30" y1="385.30" x2="505.00" y2="385.30" stroke="#333" stroke-width="1.0" />
<line x1="466.30" y1="392.40" x2="505.00" y2="392.40" stroke="#333" stroke-width="1.0" />
<line x1="485.70" y1="385.30" x2="485.70" y2="392.40" stroke="#333" stroke-width="1.0" />
<circle cx="604.9" cy="353.9" r="2.45" fill="none" stroke="#7a7a7a" stroke-width="1"/>
<circle cx="597.9" cy="358.7" r="2.45" fill="none" stroke="#7a7a7a" stroke-width="1"/>
<circle cx="608.4" cy="362.9" r="2.45" fill="none" stroke="#7a7a7a" stroke-width="1"/>
<circle cx="594.5" cy="367" r="2.45" fill="none" stroke="#7a7a7a" stroke-width="1"/>
<circle cx="601.4" cy="367.7" r="2.45" fill="none" stroke="#7a7a7a" stroke-width="1"/>
<circle cx="604.9" cy="373.3" r="2.45" fill="none" stroke="#7a7a7a" stroke-width="1"/>
<circle cx="597.9" cy="376.1" r="2.45" fill="none" stroke="#7a7a7a" stroke-width="1"/>
<circle cx="601.4" cy="392.8" r="2.45" fill="none" stroke="#7a7a7a" stroke-width="1"/>
<circle cx="601.4" cy="405.3" r="2.45" fill="none" stroke="#7a7a7a" stroke-width="1"/>
<circle cx="597.9" cy="411.5" r="2.45" fill="none" stroke="#7a7a7a" stroke-width="1"/>
<circle cx="604.9" cy="415.5" r="2.45" fill="none" stroke="#7a7a7a" stroke-width="1"/>
<circle cx="601.4" cy="423.6" r="2.45" fill="none" stroke="#7a7a7a" stroke-width="1"/>
<text x="483.60" y="490.50" font-size="12.4" text-anchor="middle" font-weight="bold" fill="#000" >Young</text>
<text x="599.70" y="490.50" font-size="12.4" text-anchor="middle" font-weight="bold" fill="#000" >Aged</text>
<text transform="translate(404.2,400.2) rotate(-90)" font-size="12.3" font-weight="bold" text-anchor="middle">Fold change fluorescence</text>
<text x="176.00" y="541.60" font-size="20" text-anchor="start" font-weight="bold" fill="#000" >e</text>
<line x1="269.50" y1="537.20" x2="269.50" y2="731.20" stroke="#888" stroke-width="1" />
<line x1="269.50" y1="731.20" x2="539.30" y2="731.20" stroke="#888" stroke-width="1" />
<line x1="266.50" y1="731.20" x2="269.50" y2="731.20" stroke="#888" stroke-width="1" />
<text x="262.70" y="734.70" font-size="9.6" text-anchor="end" fill="#222" >0</text>
<line x1="266.50" y1="703.46" x2="269.50" y2="703.46" stroke="#888" stroke-width="1" />
<text x="262.70" y="706.96" font-size="9.6" text-anchor="end" fill="#222" >2</text>
<line x1="266.50" y1="675.72" x2="269.50" y2="675.72" stroke="#888" stroke-width="1" />
<text x="262.70" y="679.22" font-size="9.6" text-anchor="end" fill="#222" >4</text>
<line x1="266.50" y1="647.98" x2="269.50" y2="647.98" stroke="#888" stroke-width="1" />
<text x="262.70" y="651.48" font-size="9.6" text-anchor="end" fill="#222" >6</text>
<line x1="266.50" y1="620.24" x2="269.50" y2="620.24" stroke="#888" stroke-width="1" />
<text x="262.70" y="623.74" font-size="9.6" text-anchor="end" fill="#222" >8</text>
<line x1="266.50" y1="592.50" x2="269.50" y2="592.50" stroke="#888" stroke-width="1" />
<text x="262.70" y="596.00" font-size="9.6" text-anchor="end" fill="#222" >10</text>
<line x1="266.50" y1="564.76" x2="269.50" y2="564.76" stroke="#888" stroke-width="1" />
<text x="262.70" y="568.26" font-size="9.6" text-anchor="end" fill="#222" >12</text>
<line x1="266.50" y1="537.02" x2="269.50" y2="537.02" stroke="#888" stroke-width="1" />
<text x="262.70" y="540.52" font-size="9.6" text-anchor="end" fill="#222" >14</text>
<line x1="269.50" y1="731.20" x2="269.50" y2="734.20" stroke="#888" stroke-width="1" />
<text x="269.50" y="747.40" font-size="9.6" text-anchor="middle" fill="#222" >0</text>
<line x1="323.40" y1="731.20" x2="323.40" y2="734.20" stroke="#888" stroke-width="1" />
<text x="323.40" y="747.40" font-size="9.6" text-anchor="middle" fill="#222" >1000</text>
<line x1="377.30" y1="731.20" x2="377.30" y2="734.20" stroke="#888" stroke-width="1" />
<text x="377.30" y="747.40" font-size="9.6" text-anchor="middle" fill="#222" >2000</text>
<line x1="431.20" y1="731.20" x2="431.20" y2="734.20" stroke="#888" stroke-width="1" />
<text x="431.20" y="747.40" font-size="9.6" text-anchor="middle" fill="#222" >3000</text>
<line x1="485.10" y1="731.20" x2="485.10" y2="734.20" stroke="#888" stroke-width="1" />
<text x="485.10" y="747.40" font-size="9.6" text-anchor="middle" fill="#222" >4000</text>
<line x1="539.00" y1="731.20" x2="539.00" y2="734.20" stroke="#888" stroke-width="1" />
<text x="539.00" y="747.40" font-size="9.6" text-anchor="middle" fill="#222" >5000</text>
<text transform="translate(221.8,634.7) rotate(-90)" font-size="14" text-anchor="middle" fill="#222">Number of Oscillations in</text>
<text transform="translate(236.6,635.4) rotate(-90)" font-size="14" text-anchor="middle" fill="#222">First Hour of Oscillations</text>
<text x="415.70" y="771.40" font-size="13.85" text-anchor="middle" fill="#222" >Total Expression in First Hour of Oscillations</text>
<path d="M269.50,731.20 L272.19,727.92 L274.89,724.70 L277.58,721.53 L280.28,718.42 L282.98,715.36 L285.67,712.36 L288.37,709.41 L291.06,706.51 L293.75,703.67 L296.45,700.88 L299.14,698.15 L301.84,695.47 L304.53,692.85 L307.23,690.28 L309.93,687.76 L312.62,685.30 L315.31,682.90 L318.01,680.54 L320.70,678.24 L323.40,676.00 L326.10,673.81 L328.79,671.68 L331.49,669.60 L334.18,667.57 L336.88,665.60 L339.57,663.68 L342.26,661.82 L344.96,660.01 L347.65,658.25 L350.35,656.55 L353.05,654.90 L355.74,653.31 L358.44,651.78 L361.13,650.29 L363.82,648.86 L366.52,647.49 L369.21,646.17 L371.91,644.90 L374.61,643.69 L377.30,642.53 L380.00,641.43 L382.69,640.38 L385.38,639.39 L388.08,638.45 L390.77,637.56 L393.47,636.73 L396.16,635.95 L398.86,635.23 L401.55,634.56 L404.25,633.95 L406.94,633.39 L409.64,632.88 L412.33,632.43 L415.03,632.04 L417.73,631.70 L420.42,631.41 L423.12,631.17 L425.81,630.99 L428.50,630.87 L431.20,630.80 L433.89,630.78 L436.59,630.82 L439.28,630.91 L441.98,631.06 L444.67,631.26 L447.37,631.52 L450.06,631.83 L452.76,632.19 L455.45,632.61 L458.15,633.08 L460.85,633.61 L463.54,634.19 L466.24,634.82 L468.93,635.51 L471.62,636.26 L474.32,637.06 L477.01,637.91 L479.71,638.82 L482.40,639.78 L485.10,640.80 L487.79,641.87 L490.49,642.99 L493.18,644.17 L495.88,645.40 L498.57,646.69 L501.27,648.03 L503.96,649.43 L506.66,650.88 L509.36,652.38 L512.05,653.94 L514.75,655.56 L517.44,657.22 L520.13,658.95 L522.83,660.72 L525.52,662.55 L528.22,664.44 L530.91,666.38 L533.61,668.37 L536.31,670.42 L539.00,672.52" fill="none" stroke="#222" stroke-width="1"/>
<path d="M269.50,731.20 L272.19,728.51 L274.89,725.87 L277.58,723.26 L280.28,720.68 L282.98,718.15 L285.67,715.65 L288.37,713.19 L291.06,710.76 L293.75,708.38 L296.45,706.03 L299.14,703.72 L301.84,701.45 L304.53,699.21 L307.23,697.02 L309.93,694.86 L312.62,692.73 L315.31,690.65 L318.01,688.60 L320.70,686.59 L323.40,684.62 L326.10,682.69 L328.79,680.79 L331.49,678.93 L334.18,677.11 L336.88,675.32 L339.57,673.58 L342.26,671.87 L344.96,670.20 L347.65,668.56 L350.35,666.96 L353.05,665.41 L355.74,663.88 L358.44,662.40 L361.13,660.95 L363.82,659.55 L366.52,658.17 L369.21,656.84 L371.91,655.54 L374.61,654.29 L377.30,653.07 L380.00,651.88 L382.69,650.74 L385.38,649.63 L388.08,648.56 L390.77,647.52 L393.47,646.53 L396.16,645.57 L398.86,644.65 L401.55,643.77 L404.25,642.92 L406.94,642.12 L409.64,641.35 L412.33,640.61 L415.03,639.92 L417.73,639.26 L420.42,638.64 L423.12,638.06 L425.81,637.51 L428.50,637.01 L431.20,636.54 L433.89,636.11 L436.59,635.71 L439.28,635.35 L441.98,635.03 L444.67,634.75 L447.37,634.51 L450.06,634.30 L452.76,634.13 L455.45,634.00 L458.15,633.91 L460.85,633.85 L463.54,633.83 L466.24,633.85 L468.93,633.91 L471.62,634.00 L474.32,634.13 L477.01,634.30 L479.71,634.51 L482.40,634.75 L485.10,635.03 L487.79,635.35 L490.49,635.71 L493.18,636.11 L495.88,636.54 L498.57,637.01 L501.27,637.51 L503.96,638.06 L506.66,638.64 L509.36,639.26 L512.05,639.92 L514.75,640.61 L517.44,641.35 L520.13,642.12 L522.83,642.92 L525.52,643.77 L528.22,644.65 L530.91,645.57 L533.61,646.53 L536.31,647.52 L539.00,648.56" fill="none" stroke="#d43a3a" stroke-width="0.85"/>
<circle cx="334.3" cy="661.5" r="2.6" fill="#000"/>
<circle cx="358.8" cy="633.9" r="2.6" fill="#000"/>
<circle cx="365.1" cy="633.9" r="2.6" fill="#000"/>
<circle cx="372.4" cy="619.9" r="2.6" fill="#000"/>
<circle cx="381" cy="619.9" r="2.6" fill="#000"/>
<circle cx="366.3" cy="661.5" r="2.6" fill="#000"/>
<circle cx="369.8" cy="647.7" r="2.6" fill="#000"/>
<circle cx="381.5" cy="647.7" r="2.6" fill="#000"/>
<circle cx="376.1" cy="675.5" r="2.6" fill="#000"/>
<circle cx="392.4" cy="661.5" r="2.6" fill="#000"/>
<circle cx="403.2" cy="647.7" r="2.6" fill="#000"/>
<circle cx="407.2" cy="647.7" r="2.6" fill="#000"/>
<circle cx="416" cy="647.7" r="2.6" fill="#000"/>
<circle cx="414.2" cy="661.5" r="2.6" fill="#000"/>
<circle cx="417" cy="661.5" r="2.6" fill="#000"/>
<circle cx="406.7" cy="578.5" r="2.6" fill="#000"/>
<circle cx="406.7" cy="606.1" r="2.6" fill="#000"/>
<circle cx="416.5" cy="606.1" r="2.6" fill="#000"/>
<circle cx="432" cy="550.5" r="2.6" fill="#000"/>
<circle cx="453.3" cy="578.5" r="2.6" fill="#000"/>
<circle cx="437.4" cy="633.9" r="2.6" fill="#000"/>
<circle cx="456.1" cy="633.9" r="2.6" fill="#000"/>
<circle cx="423.4" cy="647.7" r="2.6" fill="#000"/>
<circle cx="441.1" cy="647.7" r="2.6" fill="#000"/>
<circle cx="451.6" cy="661.5" r="2.6" fill="#000"/>
<circle cx="492.5" cy="661.5" r="2.6" fill="#000"/>
<circle cx="424.8" cy="675.5" r="2.6" fill="#c80a0a"/>
<circle cx="340.6" cy="661.5" r="2.6" fill="#c80a0a"/>
<circle cx="363.7" cy="647.7" r="2.6" fill="#c80a0a"/>
<circle cx="367.9" cy="647.7" r="2.6" fill="#c80a0a"/>
<circle cx="380.3" cy="647.7" r="2.6" fill="#c80a0a"/>
<circle cx="373.8" cy="661.5" r="2.6" fill="#c80a0a"/>
<circle cx="384.5" cy="675.5" r="2.6" fill="#c80a0a"/>
<circle cx="406.7" cy="619.9" r="2.6" fill="#c80a0a"/>
<circle cx="411.8" cy="647.7" r="2.6" fill="#c80a0a"/>
<circle cx="421.5" cy="633.9" r="2.6" fill="#c80a0a"/>
<circle cx="447.9" cy="633.9" r="2.6" fill="#c80a0a"/>
<circle cx="461.9" cy="620.1" r="2.6" fill="#c80a0a"/>
</svg>
</body></html>
